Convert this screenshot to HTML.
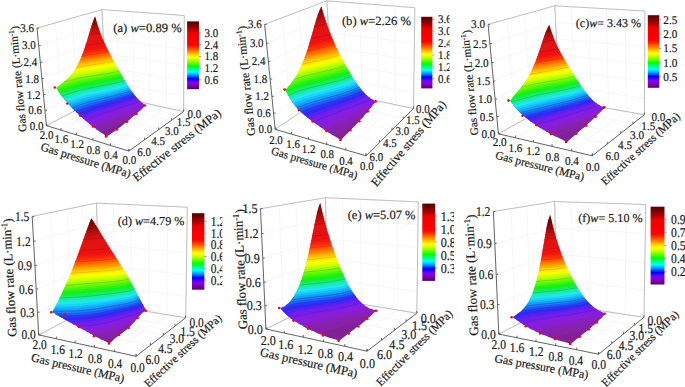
<!DOCTYPE html>
<html><head><meta charset="utf-8"><style>html,body{margin:0;padding:0;background:#fff;}svg{display:block}</style></head>
<body><svg xmlns="http://www.w3.org/2000/svg" width="685" height="387" viewBox="0 0 685 387" text-rendering="geometricPrecision">
<rect width="685" height="387" fill="#fff"/>
<path d="M46.4 125.6L106.2 94.5M106.2 94.5L183.6 111.6M45.0 110.3L105.5 81.1M105.5 81.1L183.7 96.5M43.5 94.7L104.8 67.3M104.8 67.3L183.9 81.1M41.9 78.6L104.1 53.3M104.1 53.3L184.0 65.3M40.3 62.2L103.4 39.1M103.4 39.1L184.1 49.1M38.7 45.4L102.7 24.5M102.7 24.5L184.2 32.5M37.0 28.1L101.9 9.6M101.9 9.6L184.3 15.5M106.2 94.5L101.9 9.6M106.2 94.5L183.6 111.6M92.9 101.4L87.6 13.7M92.9 101.4L171.7 120.3M78.6 108.9L72.1 18.1M78.6 108.9L158.7 129.7M63.1 116.9L55.3 22.9M63.1 116.9L144.5 139.9M46.4 125.6L37.0 28.1M46.4 125.6L128.9 151.1M183.6 111.6L184.3 15.5M128.9 151.1L183.6 111.6M166.5 107.8L166.0 14.2M110.3 145.4L166.5 107.8M150.2 104.3L148.6 13.0M92.9 140.0L150.2 104.3M134.8 100.8L132.2 11.8M76.5 134.9L134.8 100.8M120.1 97.6L116.7 10.7M61.0 130.2L120.1 97.6M106.2 94.5L101.9 9.6M46.4 125.6L106.2 94.5" stroke="#f0f0f0" stroke-width="0.6" fill="none"/>
<path d="M37.0 28.1L101.9 9.6M101.9 9.6L184.3 15.5M106.2 94.5L101.9 9.6M183.6 111.6L184.3 15.5M46.4 125.6L106.2 94.5M106.2 94.5L183.6 111.6" stroke="#a8a8a8" stroke-width="0.7" fill="none"/>
<path d="M131.4 118.0L124.1 120.3L112.8 124.5L105.0 128.1L99.3 131.3L106.9 136.5L117.5 129.2L131.4 118.0Z" fill="#822196"/>
<path d="M138.0 112.4L111.1 121.7L102.5 125.5L96.0 128.9L101.3 132.8L106.4 129.8L112.1 127.1L127.5 121.3L138.0 112.4Z" fill="#8622a3"/>
<path d="M142.9 108.0L134.4 110.5L111.1 118.6L101.0 122.7L93.0 126.6L97.9 130.4L104.4 126.8L112.2 123.4L134.4 115.5L142.9 108.0Z" fill="#8821b3"/>
<path d="M145.6 105.6L144.2 104.6L115.3 114.2L101.0 119.4L90.2 124.4L94.8 128.0L102.0 124.3L111.3 120.4L140.2 110.4L145.6 105.6Z" fill="#8920c6"/>
<path d="M145.6 105.6L141.8 102.7L103.4 115.5L95.2 118.7L87.5 122.2L91.9 125.7L99.2 122.1L108.6 118.2L145.1 106.0L145.6 105.6Z" fill="#8a1ed8"/>
<path d="M143.2 103.8L139.9 100.9L100.4 113.8L85.0 120.1L89.1 123.5L96.7 120.0L105.5 116.5L143.2 103.8Z" fill="#831ee2"/>
<path d="M141.0 102.0L138.2 99.2L98.3 111.8L82.6 118.0L86.5 121.4L102.5 114.7L141.0 102.0Z" fill="#7c1eeb"/>
<path d="M139.2 100.2L136.6 97.5L123.9 101.7L96.2 109.9L80.3 115.9L84.0 119.2L99.6 113.0L139.2 100.2Z" fill="#6b20f0"/>
<path d="M137.5 98.5L135.2 95.9L121.0 100.4L94.2 108.0L78.1 113.9L81.6 117.2L97.4 111.0L137.5 98.5Z" fill="#4f23f0"/>
<path d="M136.1 96.9L133.9 94.2L120.3 98.5L92.3 106.1L76.0 111.9L79.4 115.1L94.7 109.4L122.6 101.2L136.1 96.9Z" fill="#3427f0"/>
<path d="M134.7 95.2L132.7 92.6L118.9 96.8L90.4 104.2L74.0 110.0L77.2 113.1L93.4 107.2L120.4 99.7L134.7 95.2Z" fill="#243cf1"/>
<path d="M133.4 93.6L131.6 91.0L117.6 95.2L89.3 102.2L72.0 108.0L75.1 111.1L91.5 105.4L119.8 97.8L133.4 93.6Z" fill="#1d5ef4"/>
<path d="M132.2 92.0L130.5 89.5L116.3 93.5L87.5 100.4L70.2 106.2L73.2 109.2L89.6 103.5L118.4 96.2L132.2 92.0Z" fill="#1680f6"/>
<path d="M131.1 90.4L129.4 87.9L115.1 91.9L85.8 98.6L68.5 104.3L71.3 107.3L88.6 101.4L117.1 94.5L131.1 90.4Z" fill="#10a2f8"/>
<path d="M130.0 88.8L128.4 86.3L114.7 90.1L85.0 96.6L66.9 102.5L69.5 105.4L86.9 99.6L115.8 92.9L130.0 88.8Z" fill="#16baf8"/>
<path d="M129.0 87.3L127.4 84.8L114.3 88.3L84.2 94.6L75.8 97.0L65.3 100.7L67.8 103.6L85.9 97.6L114.6 91.2L129.0 87.3Z" fill="#1bd3f8"/>
<path d="M128.0 85.7L126.4 83.2L113.1 86.7L83.4 92.6L75.6 94.8L63.8 98.9L66.2 101.7L84.3 95.8L114.2 89.4L128.0 85.7Z" fill="#1fe8f0"/>
<path d="M127.0 84.2L125.4 81.7L112.8 84.9L81.9 90.9L74.3 93.1L62.4 97.1L64.7 99.9L75.4 96.2L83.5 93.9L113.0 87.8L127.0 84.2Z" fill="#1deac6"/>
<path d="M126.0 82.6L124.5 80.2L111.7 83.3L81.3 89.0L73.0 91.3L61.1 95.4L63.3 98.2L74.5 94.3L82.8 92.0L112.6 86.0L126.0 82.6Z" fill="#1aeb9b"/>
<path d="M125.1 81.1L123.6 78.7L110.6 81.7L80.8 87.2L72.4 89.4L59.9 93.7L61.9 96.4L73.8 92.4L82.2 90.0L111.6 84.4L125.1 81.1Z" fill="#17ed70"/>
<path d="M124.1 79.6L122.7 77.1L110.4 80.0L79.5 85.5L71.2 87.8L58.7 92.0L60.6 94.7L73.1 90.4L80.8 88.4L111.1 82.7L124.1 79.6Z" fill="#14ee46"/>
<path d="M123.2 78.0L121.8 75.6L109.4 78.4L86.0 82.2L72.9 85.2L57.5 90.3L59.4 93.0L71.9 88.8L80.3 86.5L110.2 81.1L123.2 78.0Z" fill="#11f01b"/>
<path d="M122.3 76.5L120.9 74.1L108.7 76.8L84.8 80.6L72.5 83.4L56.5 88.6L58.2 91.3L70.7 87.1L79.0 84.8L110.0 79.3L122.3 76.5Z" fill="#27f20e"/>
<path d="M121.5 75.0L120.1 72.6L108.2 75.1L81.9 79.3L71.5 81.8L59.1 85.8L56.2 88.1L57.1 89.6L70.3 85.2L79.2 82.9L109.8 77.6L121.5 75.0Z" fill="#45f50b"/>
<path d="M120.6 73.5L119.2 71.1L108.1 73.4L77.4 78.4L63.5 82.3L56.5 87.8L69.6 83.5L78.3 81.2L108.8 76.1L120.6 73.5Z" fill="#64f708"/>
<path d="M119.7 72.0L118.4 69.6L107.1 71.9L78.9 76.3L67.0 79.3L60.9 84.4L70.3 81.4L79.5 79.1L108.7 74.3L119.7 72.0Z" fill="#82fa06"/>
<path d="M118.9 70.5L117.5 68.1L107.1 70.2L78.8 74.6L69.6 76.8L65.1 81.1L79.5 77.3L107.7 72.8L118.9 70.5Z" fill="#a1fc03"/>
<path d="M118.0 69.0L116.7 66.5L107.0 68.5L81.4 72.3L71.6 74.4L68.1 78.3L81.1 75.2L106.7 71.2L118.0 69.0Z" fill="#bfff00"/>
<path d="M117.2 67.4L115.9 65.0L106.1 66.9L81.1 70.7L73.2 72.3L70.4 75.8L82.1 73.2L106.7 69.5L117.2 67.4Z" fill="#d8ff00"/>
<path d="M116.4 65.9L115.1 63.5L105.2 65.4L82.2 68.8L74.6 70.3L72.3 73.6L81.9 71.6L105.7 68.0L116.4 65.9Z" fill="#f1ff00"/>
<path d="M115.5 64.4L114.2 62.0L104.3 63.9L83.1 67.0L75.8 68.3L73.8 71.5L82.9 69.7L105.7 66.3L115.5 64.4Z" fill="#fff800"/>
<path d="M114.7 62.9L113.4 60.5L82.7 65.4L76.9 66.4L75.1 69.5L114.7 62.9Z" fill="#ffe800"/>
<path d="M113.9 61.4L112.6 59.1L83.5 63.6L77.9 64.6L76.3 67.5L113.9 61.4Z" fill="#ffd400"/>
<path d="M113.1 59.9L111.8 57.6L84.3 61.8L78.8 62.8L77.3 65.7L113.1 59.9Z" fill="#ffbb00"/>
<path d="M112.3 58.5L111.0 56.1L83.8 60.3L79.6 61.0L78.3 63.8L112.3 58.5Z" fill="#ffa200"/>
<path d="M111.5 57.0L110.2 54.6L83.2 58.8L80.4 59.2L79.1 62.0L111.5 57.0Z" fill="#ff8900"/>
<path d="M110.7 55.5L109.5 53.1L85.2 56.8L81.2 57.5L80.0 60.3L110.7 55.5Z" fill="#ff7101"/>
<path d="M109.9 54.0L108.7 51.6L84.5 55.3L81.8 55.8L80.7 58.5L109.9 54.0Z" fill="#ff5a04"/>
<path d="M109.2 52.5L108.0 50.1L83.8 53.9L82.5 54.1L81.4 56.8L109.2 52.5Z" fill="#ff4406"/>
<path d="M108.4 51.0L107.2 48.6L83.1 52.4L82.1 55.1L108.4 51.0Z" fill="#fe2e09"/>
<path d="M107.7 49.5L106.5 47.2L83.7 50.7L82.8 53.4L107.7 49.5Z" fill="#f8230c"/>
<path d="M106.9 48.0L105.8 45.7L84.3 49.1L83.4 51.7L106.9 48.0Z" fill="#f21710"/>
<path d="M106.2 46.6L105.1 44.2L84.9 47.4L84.0 50.1L106.2 46.6Z" fill="#ef1212"/>
<path d="M105.5 45.1L104.4 42.7L85.4 45.8L84.5 48.4L105.5 45.1Z" fill="#ed1212"/>
<path d="M104.8 43.6L103.8 41.3L85.9 44.1L85.1 46.8L104.8 43.6Z" fill="#eb1313"/>
<path d="M104.2 42.2L103.1 39.8L86.5 42.5L85.6 45.1L104.2 42.2Z" fill="#e91313"/>
<path d="M103.5 40.7L102.4 38.4L87.0 40.9L86.2 43.5L103.5 40.7Z" fill="#e71313"/>
<path d="M102.9 39.2L101.7 36.9L87.5 39.3L86.7 41.9L102.9 39.2Z" fill="#e51313"/>
<path d="M102.3 37.8L101.3 35.4L88.0 37.6L87.2 40.2L102.3 37.8Z" fill="#e31414"/>
<path d="M101.7 36.3L100.8 34.0L88.4 36.0L87.7 38.6L101.7 36.3Z" fill="#e11414"/>
<path d="M101.1 34.8L100.2 32.5L88.9 34.4L88.2 37.0L101.1 34.8Z" fill="#dc1313"/>
<path d="M100.5 33.4L99.7 31.1L89.4 32.8L88.6 35.4L100.5 33.4Z" fill="#d51111"/>
<path d="M100.0 31.9L99.2 29.6L89.9 31.2L89.1 33.8L100.0 31.9Z" fill="#ce0f0f"/>
<path d="M99.5 30.5L98.7 28.2L98.3 28.2L90.4 29.6L89.6 32.2L99.5 30.5Z" fill="#c60e0e"/>
<path d="M99.0 29.0L98.2 26.7L90.9 28.0L90.1 30.6L99.0 29.0Z" fill="#bf0c0c"/>
<path d="M98.5 27.6L97.7 25.3L91.4 26.4L90.6 29.0L98.5 27.6Z" fill="#b40b0b"/>
<path d="M98.0 26.1L97.0 23.8L91.9 24.8L91.1 27.4L98.0 26.1Z" fill="#aa0a0a"/>
<path d="M97.5 24.7L96.8 22.4L95.9 22.5L92.4 23.2L91.6 25.7L97.5 24.7Z" fill="#9f0909"/>
<path d="M97.1 23.2L96.4 20.9L93.0 21.5L92.1 24.1L97.1 23.2Z" fill="#940808"/>
<path d="M96.6 21.8L96.0 19.5L95.5 19.6L93.6 19.9L92.6 22.5L96.6 21.8Z" fill="#8a0707"/>
<path d="M96.2 20.3L95.6 18.0L94.2 18.3L93.2 20.9L96.2 20.3Z" fill="#810505"/>
<path d="M95.8 18.9L94.9 16.6L93.8 19.3L95.8 18.9Z" fill="#770404"/>
<path d="M95.4 17.5L95.1 16.3L94.5 17.6L95.4 17.5Z" fill="#6e0202"/>
<path d="M85.5 120.5L100.9 114.2L140.2 101.3M71.7 107.7L88.2 102.0L118.1 94.6L131.3 90.7M61.6 96.1L81.1 89.9L112.2 83.9L124.9 80.8M63.5 82.3L80.5 77.8L108.1 73.4L119.2 71.1M76.3 67.5L113.9 61.4M81.7 56.1L108.9 51.9M85.5 45.4L104.3 42.5M88.7 35.1L100.4 33.1M91.9 24.8L97.3 23.8" stroke="#000" stroke-opacity="0.25" stroke-width="0.5" fill="none"/>
<circle cx="54.8" cy="87.5" r="1.3" fill="#f00"/><circle cx="67.3" cy="103.5" r="1.3" fill="#f00"/><circle cx="80.1" cy="115.6" r="1.3" fill="#f00"/><circle cx="92.9" cy="126.5" r="1.3" fill="#f00"/><circle cx="106.0" cy="136.4" r="1.3" fill="#f00"/><circle cx="117.0" cy="129.4" r="1.3" fill="#f00"/><circle cx="127.0" cy="121.7" r="1.3" fill="#f00"/><circle cx="136.3" cy="114.0" r="1.3" fill="#f00"/><circle cx="144.8" cy="105.5" r="1.3" fill="#f00"/>
<path d="M46.4 125.6L37.0 28.1M46.4 125.6L128.9 151.1M128.9 151.1L183.6 111.6M46.4 125.6h2M45.0 110.3h2M43.5 94.7h2M41.9 78.6h2M40.3 62.2h2M38.7 45.4h2M37.0 28.1h2M46.4 125.6v-2.2M61.0 130.2v-2.2M76.5 134.9v-2.2M92.9 140.0v-2.2M110.3 145.4v-2.2M128.9 151.1v-2.2M128.9 151.1v-2.2M144.5 139.9v-2.2M158.7 129.7v-2.2M171.7 120.3v-2.2M183.6 111.6v-2.2" stroke="#555" stroke-width="0.9" fill="none"/>
<g font-family="Liberation Serif, serif" font-size="11.00" fill="#1a1a1a" stroke="#1a1a1a" stroke-width="0.18"><text transform="translate(43.4 129.7) scale(1 1.080)" text-anchor="end">0.0</text><text transform="translate(42.0 114.4) scale(1 1.080)" text-anchor="end">0.6</text><text transform="translate(40.5 98.7) scale(1 1.080)" text-anchor="end">1.2</text><text transform="translate(38.9 82.6) scale(1 1.080)" text-anchor="end">1.8</text><text transform="translate(37.3 66.2) scale(1 1.080)" text-anchor="end">2.4</text><text transform="translate(35.7 49.4) scale(1 1.080)" text-anchor="end">3.0</text><text transform="translate(34.0 32.1) scale(1 1.080)" text-anchor="end">3.6</text><text transform="translate(46.5 138.6) scale(1 1.080)" text-anchor="middle">2.0</text><text transform="translate(61.4 143.2) scale(1 1.080)" text-anchor="middle">1.6</text><text transform="translate(77.2 147.8) scale(1 1.080)" text-anchor="middle">1.2</text><text transform="translate(93.3 153.5) scale(1 1.080)" text-anchor="middle">0.8</text><text transform="translate(110.9 159.3) scale(1 1.080)" text-anchor="middle">0.4</text><text transform="translate(129.3 164.3) scale(1 1.080)" text-anchor="middle">0.0</text><text transform="translate(144.2 155.5) scale(1 1.080)" text-anchor="middle">6.0</text><text transform="translate(158.1 144.5) scale(1 1.080)" text-anchor="middle">4.5</text><text transform="translate(171.9 135.3) scale(1 1.080)" text-anchor="middle">3.0</text><text transform="translate(183.7 126.0) scale(1 1.080)" text-anchor="middle">1.5</text><text transform="translate(194.3 117.9) scale(1 1.080)" text-anchor="middle">0.0</text></g>
<g font-family="Liberation Serif, serif" fill="#1a1a1a" stroke="#1a1a1a" stroke-width="0.18"><text transform="translate(18.1 78.9) rotate(-95.5)" text-anchor="middle" dy="0.3em" font-size="11.33">Gas flow rate (L·min<tspan font-size="0.68em" dy="-0.4em">-1</tspan><tspan dy="0.4em">)</tspan></text><text transform="translate(85.8 160.5) rotate(17.2)" text-anchor="middle" dy="0.3em" font-size="11.82">Gas pressure (MPa)</text><text transform="translate(177.1 145.3) rotate(-38.4)" text-anchor="middle" dy="0.3em" font-size="12.18">Effective stress (MPa)</text></g>
<text font-family="Liberation Serif, serif" font-size="12.6" fill="#1a1a1a" stroke="#1a1a1a" stroke-width="0.18" x="113.3" y="31.5">(a) <tspan font-style="italic">w</tspan>=0.89 %</text>
<linearGradient id="ga" x1="0" y1="1" x2="0" y2="0"><stop offset="0.000" stop-color="#5a0070"/><stop offset="0.060" stop-color="#8000c0"/><stop offset="0.100" stop-color="#8000ff"/><stop offset="0.155" stop-color="#0000ff"/><stop offset="0.210" stop-color="#00a0ff"/><stop offset="0.255" stop-color="#00ffff"/><stop offset="0.340" stop-color="#00ff00"/><stop offset="0.430" stop-color="#c0ff00"/><stop offset="0.470" stop-color="#ffff00"/><stop offset="0.500" stop-color="#ffe000"/><stop offset="0.560" stop-color="#ff8000"/><stop offset="0.615" stop-color="#ff3000"/><stop offset="0.655" stop-color="#ff0000"/><stop offset="0.830" stop-color="#f00000"/><stop offset="0.885" stop-color="#b00000"/><stop offset="0.956" stop-color="#700000"/><stop offset="1.000" stop-color="#500000"/></linearGradient>
<rect x="187.1" y="21.4" width="11.9" height="67.8" fill="url(#ga)"/>
<path d="M199.0 32.9h2M199.0 44.6h2M199.0 56.4h2M199.0 68.1h2M199.0 79.8h2" stroke="#777" stroke-width="0.8"/>
<g font-family="Liberation Serif, serif" font-size="11.00" fill="#1a1a1a" stroke="#1a1a1a" stroke-width="0.18"><text transform="translate(204.6 36.9) scale(1 1.080)" text-anchor="start">3.0</text><text transform="translate(204.6 48.7) scale(1 1.080)" text-anchor="start">2.4</text><text transform="translate(204.6 60.4) scale(1 1.080)" text-anchor="start">1.8</text><text transform="translate(204.6 72.1) scale(1 1.080)" text-anchor="start">1.2</text><text transform="translate(204.6 83.8) scale(1 1.080)" text-anchor="start">0.6</text></g>
<path d="M275.2 129.4L331.7 91.3M331.7 91.3L413.5 108.5M273.6 113.1L330.9 77.0M330.9 77.0L413.8 92.8M271.9 96.3L330.2 62.5M330.2 62.5L414.0 76.7M270.2 79.1L329.4 47.6M329.4 47.6L414.2 60.1M268.4 61.4L328.6 32.4M328.6 32.4L414.4 43.1M266.5 43.2L327.8 16.8M327.8 16.8L414.7 25.7M264.6 24.4L326.9 0.8M326.9 0.8L414.9 7.7M331.7 91.3L326.9 0.8M331.7 91.3L413.5 108.5M319.2 99.7L313.4 5.9M319.2 99.7L403.2 118.7M305.8 108.8L298.6 11.5M305.8 108.8L392.0 129.9M291.2 118.6L282.4 17.7M291.2 118.6L379.6 142.2M275.2 129.4L264.6 24.4M275.2 129.4L366.0 155.8M413.5 108.5L414.9 7.7M366.0 155.8L413.5 108.5M395.6 104.7L395.6 6.2M345.8 149.9L395.6 104.7M378.5 101.1L377.1 4.7M326.7 144.4L378.5 101.1M362.2 97.7L359.6 3.3M308.6 139.1L362.2 97.7M346.6 94.4L342.9 2.0M291.5 134.1L346.6 94.4M331.7 91.3L326.9 0.8M275.2 129.4L331.7 91.3" stroke="#f0f0f0" stroke-width="0.6" fill="none"/>
<path d="M264.6 24.4L326.9 0.8M326.9 0.8L414.9 7.7M331.7 91.3L326.9 0.8M413.5 108.5L414.9 7.7M275.2 129.4L331.7 91.3M331.7 91.3L413.5 108.5" stroke="#a8a8a8" stroke-width="0.7" fill="none"/>
<path d="M358.7 121.7L350.0 125.2L331.4 134.3L341.0 140.0L358.7 121.7Z" fill="#822196"/>
<path d="M364.4 115.4L360.5 116.4L352.0 119.7L327.1 131.5L334.1 136.0L354.2 126.5L364.4 115.4Z" fill="#8622a3"/>
<path d="M368.9 110.0L362.4 111.8L352.6 115.5L323.1 128.9L329.7 133.2L351.4 122.6L361.4 118.7L368.9 110.0Z" fill="#8821b3"/>
<path d="M372.6 105.5L366.5 106.9L355.6 110.8L319.3 126.2L325.5 130.4L352.3 117.9L359.5 115.1L366.5 112.9L372.6 105.5Z" fill="#8920c6"/>
<path d="M375.7 101.6L374.3 101.0L362.7 104.9L315.7 123.7L321.6 127.8L352.8 113.9L362.6 110.2L370.5 108.0L375.7 101.6Z" fill="#8a1ed8"/>
<path d="M375.7 101.6L370.9 98.7L312.2 121.2L317.8 125.2L355.5 109.5L366.6 105.5L374.3 103.3L375.7 101.6Z" fill="#831ee2"/>
<path d="M372.8 100.0L368.3 96.7L349.9 104.0L309.0 118.8L314.2 122.7L350.8 108.2L372.8 100.0Z" fill="#7c1eeb"/>
<path d="M369.8 97.9L366.2 94.8L347.9 102.0L306.0 116.5L310.9 120.3L369.8 97.9Z" fill="#6b20f0"/>
<path d="M367.4 95.9L364.3 92.9L346.0 100.1L303.4 114.3L307.8 117.9L349.8 102.9L367.4 95.9Z" fill="#4f23f0"/>
<path d="M365.4 94.0L362.7 91.1L355.1 94.3L345.0 98.0L313.3 107.8L301.0 112.1L304.9 115.6L347.1 101.3L365.4 94.0Z" fill="#3427f0"/>
<path d="M363.7 92.2L361.2 89.3L353.6 92.5L344.1 95.8L311.9 105.4L298.8 110.0L302.4 113.4L346.8 98.8L363.7 92.2Z" fill="#243cf1"/>
<path d="M362.1 90.4L359.7 87.6L352.8 90.5L344.1 93.5L311.4 102.9L296.9 108.0L300.1 111.2L311.5 107.2L345.9 96.7L362.1 90.4Z" fill="#1d5ef4"/>
<path d="M360.6 88.6L358.4 85.8L343.4 91.4L309.5 100.8L295.2 106.0L298.1 109.2L311.3 104.5L345.0 94.6L360.6 88.6Z" fill="#1680f6"/>
<path d="M359.2 86.9L357.1 84.1L343.5 89.1L308.6 98.6L293.7 104.0L296.2 107.2L310.7 102.0L344.3 92.5L359.2 86.9Z" fill="#10a2f8"/>
<path d="M357.9 85.1L355.9 82.4L348.8 85.2L340.6 87.8L306.1 97.0L292.3 102.1L294.6 105.2L308.8 100.1L343.6 90.5L357.9 85.1Z" fill="#16baf8"/>
<path d="M356.6 83.4L354.8 80.7L348.3 83.2L339.2 86.0L306.5 94.5L299.1 96.9L291.0 100.3L293.1 103.3L306.2 98.4L340.6 89.1L349.6 86.2L356.6 83.4Z" fill="#1bd4f8"/>
<path d="M355.5 81.7L353.6 79.0L339.5 83.8L305.2 92.6L297.5 95.2L289.8 98.4L291.8 101.4L299.5 98.2L306.8 95.8L340.0 87.1L349.1 84.2L355.5 81.7Z" fill="#1fe8f0"/>
<path d="M354.3 80.0L352.6 77.3L346.7 79.5L338.3 82.1L305.4 90.3L297.9 92.8L288.7 96.6L290.5 99.5L298.1 96.4L305.6 93.8L339.5 85.1L347.9 82.5L354.3 80.0Z" fill="#1deac6"/>
<path d="M353.2 78.3L351.5 75.6L337.9 80.1L305.5 88.1L295.8 91.3L287.7 94.8L289.4 97.7L298.5 93.9L305.9 91.4L338.2 83.3L346.0 81.0L353.2 78.3Z" fill="#1aeb9b"/>
<path d="M352.1 76.6L350.5 73.9L337.6 78.1L303.7 86.4L295.8 89.1L286.8 93.0L288.3 95.9L296.6 92.3L304.4 89.7L338.6 81.1L352.1 76.6Z" fill="#17ed70"/>
<path d="M351.1 74.9L349.5 72.2L337.3 76.2L303.6 84.4L295.5 87.1L285.9 91.2L287.4 94.1L296.8 90.1L304.5 87.5L338.3 79.2L351.1 74.9Z" fill="#14ee46"/>
<path d="M350.1 73.2L348.5 70.6L337.0 74.3L312.5 79.9L303.4 82.3L292.9 86.0L286.2 89.0L285.3 89.9L286.4 92.3L294.3 88.9L304.4 85.4L337.1 77.4L350.1 73.2Z" fill="#11f01b"/>
<path d="M349.1 71.6L347.5 68.9L335.9 72.5L304.8 79.9L297.3 82.3L289.4 85.4L285.3 89.9L285.6 90.5L296.6 85.9L305.9 82.9L336.8 75.5L349.1 71.6Z" fill="#27f20e"/>
<path d="M348.1 69.9L346.6 67.3L334.9 70.8L304.4 78.0L291.9 82.3L287.6 87.4L296.2 83.9L303.9 81.4L335.7 73.8L348.1 69.9Z" fill="#45f50b"/>
<path d="M347.2 68.2L345.7 65.6L334.7 68.9L305.5 75.7L293.9 79.5L290.5 84.1L305.3 79.0L335.5 71.9L347.2 68.2Z" fill="#64f708"/>
<path d="M346.2 66.6L344.8 63.9L334.5 67.0L306.6 73.4L295.6 76.8L292.8 81.1L306.4 76.6L335.3 69.9L346.2 66.6Z" fill="#82fa06"/>
<path d="M345.3 64.9L343.9 62.3L333.6 65.3L306.1 71.6L297.0 74.4L294.6 78.4L307.5 74.4L334.3 68.2L345.3 64.9Z" fill="#a1fc03"/>
<path d="M344.4 63.3L343.0 60.6L333.5 63.5L307.0 69.5L298.3 72.0L296.2 75.8L307.0 72.5L333.3 66.6L344.4 63.3Z" fill="#bfff00"/>
<path d="M343.5 61.6L342.1 59.0L331.7 62.0L308.0 67.3L299.5 69.7L297.6 73.4L309.5 70.0L334.8 64.2L343.5 61.6Z" fill="#d8ff00"/>
<path d="M342.7 60.0L341.3 57.3L332.5 59.9L307.3 65.6L300.6 67.5L298.8 71.1L310.4 67.9L333.9 62.6L342.7 60.0Z" fill="#f1ff00"/>
<path d="M341.8 58.3L340.4 55.7L330.8 58.4L308.1 63.5L301.5 65.3L299.9 68.8L311.2 65.8L333.0 60.9L341.8 58.3Z" fill="#fff800"/>
<path d="M340.9 56.7L339.6 54.1L331.6 56.4L308.9 61.5L302.5 63.2L301.0 66.6L310.6 64.0L332.9 59.0L340.9 56.7Z" fill="#ffe800"/>
<path d="M340.1 55.0L338.8 52.4L329.9 54.9L308.2 59.8L303.3 61.1L301.9 64.4L331.3 57.6L340.1 55.0Z" fill="#ffd400"/>
<path d="M339.3 53.4L338.0 50.8L329.1 53.2L308.9 57.8L304.1 59.0L302.8 62.3L330.4 55.9L339.3 53.4Z" fill="#ffba00"/>
<path d="M338.5 51.8L337.2 49.1L328.3 51.6L309.6 55.8L304.9 57.0L303.6 60.2L330.4 54.0L338.5 51.8Z" fill="#ffa200"/>
<path d="M337.7 50.1L336.4 47.5L329.1 49.5L308.8 54.1L305.6 54.9L304.4 58.2L329.6 52.4L337.7 50.1Z" fill="#ff8900"/>
<path d="M336.9 48.5L335.7 45.9L328.4 47.9L309.4 52.2L306.3 52.9L305.2 56.2L328.8 50.7L336.9 48.5Z" fill="#ff7101"/>
<path d="M336.1 46.8L334.9 44.2L308.5 50.6L307.0 51.0L305.9 54.1L328.0 49.1L336.1 46.8Z" fill="#ff5a04"/>
<path d="M335.4 45.2L334.2 42.6L309.2 48.6L307.6 49.0L306.6 52.2L335.4 45.2Z" fill="#ff4406"/>
<path d="M334.6 43.6L333.5 41.0L308.2 47.1L307.2 50.2L334.6 43.6Z" fill="#fe2e09"/>
<path d="M333.9 41.9L332.8 39.3L308.8 45.1L307.8 48.2L333.9 41.9Z" fill="#f8230c"/>
<path d="M333.2 40.3L332.1 37.7L309.4 43.2L308.5 46.3L333.2 40.3Z" fill="#f21710"/>
<path d="M332.5 38.7L331.4 36.1L310.0 41.3L309.0 44.4L332.5 38.7Z" fill="#ef1212"/>
<path d="M331.8 37.1L330.7 34.5L310.5 39.4L309.6 42.4L331.8 37.1Z" fill="#ed1212"/>
<path d="M331.1 35.4L330.1 32.8L311.1 37.5L310.2 40.5L331.1 35.4Z" fill="#eb1313"/>
<path d="M330.5 33.8L329.4 31.2L311.6 35.6L310.8 38.6L330.5 33.8Z" fill="#e91313"/>
<path d="M329.8 32.2L328.8 29.6L312.2 33.7L311.3 36.7L329.8 32.2Z" fill="#e71313"/>
<path d="M329.2 30.6L328.2 27.9L312.7 31.8L311.8 34.8L329.2 30.6Z" fill="#e51313"/>
<path d="M328.6 28.9L327.6 26.3L313.2 29.9L312.4 32.9L328.6 28.9Z" fill="#e31414"/>
<path d="M328.0 27.3L327.0 24.7L313.8 28.0L312.9 31.0L328.0 27.3Z" fill="#e11414"/>
<path d="M327.4 25.7L326.5 23.1L314.3 26.2L313.4 29.2L327.4 25.7Z" fill="#dc1313"/>
<path d="M326.8 24.0L325.9 21.4L314.8 24.3L314.0 27.3L326.8 24.0Z" fill="#d51111"/>
<path d="M326.3 22.4L325.4 19.8L315.4 22.4L314.5 25.4L326.3 22.4Z" fill="#ce0f0f"/>
<path d="M325.7 20.8L324.9 18.2L316.0 20.5L315.1 23.5L325.7 20.8Z" fill="#c60e0e"/>
<path d="M325.2 19.2L324.3 16.6L316.5 18.6L315.6 21.6L325.2 19.2Z" fill="#bf0c0c"/>
<path d="M324.6 17.6L323.8 14.9L317.1 16.7L316.2 19.7L324.6 17.6Z" fill="#b40b0b"/>
<path d="M324.1 15.9L323.3 13.3L317.8 14.8L316.8 17.9L324.1 15.9Z" fill="#a90a0a"/>
<path d="M323.6 14.3L322.9 11.7L318.5 12.9L317.4 16.0L323.6 14.3Z" fill="#9f0909"/>
<path d="M323.1 12.7L322.4 10.1L319.2 10.9L318.1 14.0L323.1 12.7Z" fill="#940808"/>
<path d="M322.7 11.0L321.9 8.4L320.1 8.9L318.8 12.1L322.7 11.0Z" fill="#8a0707"/>
<path d="M322.2 9.4L321.5 6.8L321.2 6.9L319.6 10.1L322.2 9.4Z" fill="#810505"/>
<path d="M321.7 7.8L321.4 6.6L320.5 8.1L321.7 7.8Z" fill="#770404"/>
<path d="M312.9 121.7L371.5 99.1M296.6 107.6L310.4 102.7L344.6 92.9L359.5 87.2M288.1 95.5L297.1 91.7L304.8 89.1L338.4 80.8L351.9 76.3M293.9 79.5L307.1 75.3L334.7 68.9L345.7 65.6M301.9 64.4L331.3 57.6L340.1 55.0M306.8 51.4L335.1 44.6M310.6 39.0L330.6 34.1M314.1 26.9L326.7 23.7M317.8 14.8L323.3 13.3" stroke="#000" stroke-opacity="0.25" stroke-width="0.5" fill="none"/>
<circle cx="284.6" cy="89.6" r="1.3" fill="#f00"/><circle cx="298.8" cy="110.1" r="1.3" fill="#f00"/><circle cx="312.5" cy="121.4" r="1.3" fill="#f00"/><circle cx="326.4" cy="131.0" r="1.3" fill="#f00"/><circle cx="340.4" cy="140.0" r="1.3" fill="#f00"/><circle cx="350.3" cy="130.3" r="1.3" fill="#f00"/><circle cx="359.3" cy="121.2" r="1.3" fill="#f00"/><circle cx="367.7" cy="111.4" r="1.3" fill="#f00"/><circle cx="375.6" cy="101.4" r="1.3" fill="#f00"/>
<path d="M275.2 129.4L264.6 24.4M275.2 129.4L366.0 155.8M366.0 155.8L413.5 108.5M275.2 129.4h2M273.6 113.1h2M271.9 96.3h2M270.2 79.1h2M268.4 61.4h2M266.5 43.2h2M264.6 24.4h2M275.2 129.4v-2.2M291.5 134.1v-2.2M308.6 139.1v-2.2M326.7 144.4v-2.2M345.8 149.9v-2.2M366.0 155.8v-2.2M366.0 155.8v-2.2M379.6 142.2v-2.2M392.0 129.9v-2.2M403.2 118.7v-2.2M413.5 108.5v-2.2" stroke="#555" stroke-width="0.9" fill="none"/>
<g font-family="Liberation Serif, serif" font-size="10.90" fill="#1a1a1a" stroke="#1a1a1a" stroke-width="0.18"><text transform="translate(272.2 133.4) scale(1 1.090)" text-anchor="end">0.0</text><text transform="translate(270.6 117.1) scale(1 1.090)" text-anchor="end">0.6</text><text transform="translate(268.9 100.4) scale(1 1.090)" text-anchor="end">1.2</text><text transform="translate(267.2 83.1) scale(1 1.090)" text-anchor="end">1.8</text><text transform="translate(265.4 65.4) scale(1 1.090)" text-anchor="end">2.4</text><text transform="translate(263.5 47.2) scale(1 1.090)" text-anchor="end">3.0</text><text transform="translate(261.6 28.4) scale(1 1.090)" text-anchor="end">3.6</text><text transform="translate(276.0 143.5) scale(1 1.090)" text-anchor="middle">2.0</text><text transform="translate(293.1 148.2) scale(1 1.090)" text-anchor="middle">1.6</text><text transform="translate(308.6 152.8) scale(1 1.090)" text-anchor="middle">1.2</text><text transform="translate(327.2 158.3) scale(1 1.090)" text-anchor="middle">0.8</text><text transform="translate(346.0 164.5) scale(1 1.090)" text-anchor="middle">0.4</text><text transform="translate(366.8 170.2) scale(1 1.090)" text-anchor="middle">0.0</text><text transform="translate(376.3 160.7) scale(1 1.090)" text-anchor="middle">6.0</text><text transform="translate(389.8 147.2) scale(1 1.090)" text-anchor="middle">4.5</text><text transform="translate(402.3 134.7) scale(1 1.090)" text-anchor="middle">3.0</text><text transform="translate(412.9 123.7) scale(1 1.090)" text-anchor="middle">1.5</text><text transform="translate(422.9 113.2) scale(1 1.090)" text-anchor="middle">0.0</text></g>
<g font-family="Liberation Serif, serif" fill="#1a1a1a" stroke="#1a1a1a" stroke-width="0.18"><text transform="translate(246.1 81.0) rotate(-95.8)" text-anchor="middle" dy="0.3em" font-size="11.77">Gas flow rate (L·min<tspan font-size="0.68em" dy="-0.4em">-1</tspan><tspan dy="0.4em">)</tspan></text><text transform="translate(314.4 163.3) rotate(16.2)" text-anchor="middle" dy="0.3em" font-size="11.27">Gas pressure (MPa)</text><text transform="translate(408.8 143.7) rotate(-49.6)" text-anchor="middle" dy="0.3em" font-size="12.17">Effective stress (MPa)</text></g>
<text font-family="Liberation Serif, serif" font-size="12.6" fill="#1a1a1a" stroke="#1a1a1a" stroke-width="0.18" x="341.9" y="24.5">(b) <tspan font-style="italic">w</tspan>=2.26 %</text>
<linearGradient id="gb" x1="0" y1="1" x2="0" y2="0"><stop offset="0.000" stop-color="#5a0070"/><stop offset="0.060" stop-color="#8000c0"/><stop offset="0.100" stop-color="#8000ff"/><stop offset="0.155" stop-color="#0000ff"/><stop offset="0.210" stop-color="#00a0ff"/><stop offset="0.255" stop-color="#00ffff"/><stop offset="0.340" stop-color="#00ff00"/><stop offset="0.430" stop-color="#c0ff00"/><stop offset="0.470" stop-color="#ffff00"/><stop offset="0.500" stop-color="#ffe000"/><stop offset="0.560" stop-color="#ff8000"/><stop offset="0.615" stop-color="#ff3000"/><stop offset="0.655" stop-color="#ff0000"/><stop offset="0.830" stop-color="#f00000"/><stop offset="0.885" stop-color="#b00000"/><stop offset="0.956" stop-color="#700000"/><stop offset="1.000" stop-color="#500000"/></linearGradient>
<rect x="421.2" y="16.8" width="11.2" height="71.6" fill="url(#gb)"/>
<path d="M432.4 19.4h2M432.4 31.3h2M432.4 43.1h2M432.4 55.0h2M432.4 66.9h2M432.4 78.8h2" stroke="#777" stroke-width="0.8"/>
<clipPath id="clb"><rect x="0" y="0" width="449.5" height="400"/></clipPath>
<g font-family="Liberation Serif, serif" font-size="10.90" fill="#1a1a1a" stroke="#1a1a1a" stroke-width="0.18" clip-path="url(#clb)"><text transform="translate(438.0 23.4) scale(1 1.090)" text-anchor="start">3.6</text><text transform="translate(438.0 35.3) scale(1 1.090)" text-anchor="start">3.0</text><text transform="translate(438.0 47.2) scale(1 1.090)" text-anchor="start">2.4</text><text transform="translate(438.0 59.0) scale(1 1.090)" text-anchor="start">1.8</text><text transform="translate(438.0 70.9) scale(1 1.090)" text-anchor="start">1.2</text><text transform="translate(438.0 82.8) scale(1 1.090)" text-anchor="start">0.6</text></g>
<path d="M498.4 133.8L559.6 100.0M559.6 100.0L644.4 114.7M496.8 116.6L558.8 85.0M558.8 85.0L644.4 98.4M495.1 99.0L558.0 69.8M558.0 69.8L644.5 81.7M493.4 81.0L557.2 54.3M557.2 54.3L644.6 64.6M491.7 62.6L556.4 38.5M556.4 38.5L644.7 47.1M490.0 43.7L555.6 22.3M555.6 22.3L644.8 29.3M488.1 24.4L554.8 5.8M554.8 5.8L644.9 11.0M559.6 100.0L554.8 5.8M559.6 100.0L644.4 114.7M546.0 107.4L540.2 9.9M546.0 107.4L633.0 123.7M531.4 115.5L524.3 14.3M531.4 115.5L620.7 133.4M515.6 124.3L507.1 19.1M515.6 124.3L607.2 144.1M498.4 133.8L488.1 24.4M498.4 133.8L592.3 155.8M644.4 114.7L644.9 11.0M592.3 155.8L644.4 114.7M626.0 111.5L625.3 9.9M571.7 151.0L626.0 111.5M608.4 108.5L606.5 8.8M552.0 146.4L608.4 108.5M591.5 105.5L588.5 7.8M533.3 142.0L591.5 105.5M575.2 102.7L571.3 6.8M515.4 137.8L575.2 102.7M559.6 100.0L554.8 5.8M498.4 133.8L559.6 100.0" stroke="#f0f0f0" stroke-width="0.6" fill="none"/>
<path d="M488.1 24.4L554.8 5.8M554.8 5.8L644.9 11.0M559.6 100.0L554.8 5.8M644.4 114.7L644.9 11.0M498.4 133.8L559.6 100.0M559.6 100.0L644.4 114.7" stroke="#a8a8a8" stroke-width="0.7" fill="none"/>
<path d="M587.2 124.6L587.7 124.2L585.3 124.5L578.9 126.2L553.2 135.3L567.0 141.9L587.2 124.6Z" fill="#822196"/>
<path d="M592.8 119.3L588.4 119.8L580.8 121.8L548.9 133.0L556.1 136.8L557.0 136.5L576.0 129.7L583.7 127.7L592.8 119.3Z" fill="#8622a3"/>
<path d="M596.9 115.3L597.3 114.9L593.1 115.3L584.4 117.5L573.6 120.9L553.0 128.3L544.9 130.7L551.4 134.4L552.4 134.1L578.7 124.7L585.1 122.9L589.9 122.1L596.9 115.3Z" fill="#8821b3"/>
<path d="M600.9 111.3L601.3 110.9L600.4 110.9L597.2 111.3L587.1 113.8L550.5 125.9L541.3 128.5L547.3 132.0L549.2 131.5L581.4 120.3L589.1 118.2L594.8 117.4L600.9 111.3Z" fill="#8920c6"/>
<path d="M604.8 107.4L602.7 106.9L595.7 108.6L548.2 123.6L537.9 126.4L543.4 129.8L546.3 129.0L582.9 116.7L593.5 113.9L598.9 113.3L604.8 107.4Z" fill="#8a1ed8"/>
<path d="M604.8 107.4L602.0 106.6L598.6 104.9L547.9 120.8L534.8 124.3L539.9 127.7L540.9 127.4L550.1 124.8L588.6 112.3L597.6 109.9L602.9 109.3L604.8 107.4Z" fill="#831ee2"/>
<path d="M600.6 106.0L596.2 103.2L575.8 109.8L543.4 119.4L531.9 122.3L536.6 125.6L538.7 125.1L548.7 122.3L600.6 106.0Z" fill="#7c1eeb"/>
<path d="M597.6 104.2L594.2 101.5L574.7 107.9L541.7 117.3L529.2 120.4L533.6 123.5L535.7 123.1L550.2 119.0L584.8 108.4L597.6 104.2Z" fill="#6b20f0"/>
<path d="M595.3 102.5L592.5 99.9L584.5 102.8L573.8 106.0L526.7 118.5L530.8 121.6L532.8 121.1L576.7 108.7L595.3 102.5Z" fill="#4f23f0"/>
<path d="M593.5 100.9L590.9 98.4L583.7 101.0L572.9 104.2L524.4 116.6L528.2 119.6L530.2 119.2L575.6 106.8L593.5 100.9Z" fill="#3427f0"/>
<path d="M591.8 99.3L589.5 96.8L582.3 99.4L572.2 102.3L522.3 114.8L525.8 117.8L526.8 117.5L573.1 105.4L583.9 102.1L591.8 99.3Z" fill="#243cf1"/>
<path d="M590.4 97.8L588.2 95.3L572.4 100.3L520.4 113.1L523.6 115.9L572.3 103.5L582.4 100.6L590.4 97.8Z" fill="#1d5ef4"/>
<path d="M589.0 96.2L587.0 93.8L579.6 96.3L570.9 98.7L541.6 105.5L518.6 111.3L521.5 114.1L572.4 101.5L581.7 98.8L589.0 96.2Z" fill="#1680f6"/>
<path d="M587.7 94.7L585.8 92.3L571.2 96.8L540.5 103.6L517.0 109.6L519.7 112.4L571.8 99.7L587.7 94.7Z" fill="#10a2f8"/>
<path d="M586.5 93.2L584.7 90.8L570.8 95.0L538.0 102.1L515.5 108.0L517.9 110.6L540.8 104.8L571.2 97.9L586.5 93.2Z" fill="#16bbf8"/>
<path d="M585.3 91.7L583.6 89.4L571.2 93.1L537.2 100.2L514.1 106.3L516.4 109.0L539.9 102.9L571.5 95.9L585.3 91.7Z" fill="#1bd4f8"/>
<path d="M584.2 90.2L582.5 87.9L570.8 91.3L537.4 98.2L512.8 104.7L514.9 107.3L538.9 101.1L571.1 94.2L584.2 90.2Z" fill="#1fe8f0"/>
<path d="M583.2 88.8L581.5 86.4L567.9 90.2L534.5 96.9L511.6 103.1L513.5 105.6L537.4 99.4L570.7 92.4L583.2 88.8Z" fill="#1deac6"/>
<path d="M582.1 87.3L580.5 85.0L566.7 88.7L533.1 95.3L510.4 101.5L512.3 104.0L535.0 98.0L567.8 91.3L582.1 87.3Z" fill="#1aeb9b"/>
<path d="M581.1 85.8L579.5 83.5L567.3 86.8L541.0 91.7L529.8 94.2L511.1 99.4L510.0 100.8L511.1 102.4L533.7 96.3L567.4 89.6L581.1 85.8Z" fill="#17ed70"/>
<path d="M580.1 84.4L578.5 82.1L566.2 85.3L533.3 91.5L513.0 97.0L510.0 100.8L533.9 94.3L566.2 88.1L580.1 84.4Z" fill="#14ee46"/>
<path d="M579.1 82.9L577.6 80.6L565.1 83.8L533.3 89.7L515.1 94.6L511.9 98.5L534.0 92.4L566.0 86.4L579.1 82.9Z" fill="#11f01b"/>
<path d="M578.1 81.5L576.6 79.2L564.9 82.1L533.1 87.9L517.2 92.1L513.8 96.1L534.0 90.6L565.7 84.7L578.1 81.5Z" fill="#27f20e"/>
<path d="M577.2 80.0L575.7 77.7L564.7 80.5L532.9 86.2L519.2 89.8L515.9 93.6L533.9 88.8L564.6 83.2L577.2 80.0Z" fill="#45f50b"/>
<path d="M576.3 78.6L574.8 76.3L563.7 79.0L534.2 84.1L521.1 87.4L518.0 91.2L533.7 87.1L564.4 81.5L576.3 78.6Z" fill="#64f708"/>
<path d="M575.3 77.1L573.9 74.8L562.6 77.5L533.8 82.5L522.8 85.2L520.0 88.8L535.0 85.0L564.3 79.9L575.3 77.1Z" fill="#82fa06"/>
<path d="M574.4 75.7L572.9 73.4L562.5 75.8L535.0 80.6L524.4 83.1L521.8 86.5L536.2 83.0L563.2 78.4L574.4 75.7Z" fill="#a1fc03"/>
<path d="M573.5 74.3L572.0 72.0L562.4 74.2L534.5 79.0L525.8 81.0L523.5 84.3L535.8 81.4L563.1 76.7L573.5 74.3Z" fill="#bfff00"/>
<path d="M572.6 72.8L571.1 70.5L561.4 72.7L535.5 77.1L527.0 79.0L525.0 82.2L538.4 79.2L563.9 74.9L572.6 72.8Z" fill="#d8ff00"/>
<path d="M571.7 71.4L570.2 69.1L561.4 71.1L536.4 75.3L528.2 77.1L526.3 80.2L539.3 77.4L562.9 73.4L571.7 71.4Z" fill="#f1ff00"/>
<path d="M570.8 69.9L569.4 67.6L560.4 69.6L535.8 73.8L529.3 75.2L527.5 78.2L538.8 75.8L562.0 72.0L570.8 69.9Z" fill="#fff800"/>
<path d="M569.9 68.5L568.5 66.2L560.4 68.0L536.7 72.0L530.3 73.3L528.6 76.3L539.7 74.0L561.9 70.3L569.9 68.5Z" fill="#ffe800"/>
<path d="M569.0 67.1L567.6 64.8L559.5 66.6L537.5 70.3L531.2 71.5L529.7 74.4L561.0 68.9L569.0 67.1Z" fill="#ffd400"/>
<path d="M568.1 65.6L566.7 63.3L558.6 65.1L538.2 68.5L532.0 69.7L530.6 72.6L560.0 67.4L568.1 65.6Z" fill="#ffbb00"/>
<path d="M567.2 64.2L565.9 61.9L558.6 63.5L537.5 67.1L532.8 68.0L531.5 70.8L560.0 65.8L567.2 64.2Z" fill="#ffa200"/>
<path d="M566.4 62.8L565.0 60.5L538.2 65.4L533.6 66.3L532.4 69.0L558.2 64.5L566.4 62.8Z" fill="#ff8900"/>
<path d="M565.5 61.3L564.2 59.1L538.9 63.7L534.3 64.5L533.1 67.3L565.5 61.3Z" fill="#ff7101"/>
<path d="M564.7 59.9L563.3 57.6L538.1 62.3L535.0 62.8L533.9 65.6L564.7 59.9Z" fill="#ff5a04"/>
<path d="M563.8 58.5L562.5 56.2L535.7 61.2L534.6 63.9L563.8 58.5Z" fill="#ff4406"/>
<path d="M563.0 57.1L561.7 54.8L536.3 59.5L535.3 62.2L563.0 57.1Z" fill="#fe2e09"/>
<path d="M562.2 55.6L560.9 53.4L536.9 57.8L535.9 60.5L562.2 55.6Z" fill="#f8230c"/>
<path d="M561.4 54.2L560.2 52.0L537.5 56.2L536.5 58.8L561.4 54.2Z" fill="#f21710"/>
<path d="M560.6 52.8L559.4 50.5L538.1 54.6L537.2 57.2L560.6 52.8Z" fill="#ef1212"/>
<path d="M559.9 51.4L558.7 49.1L538.6 52.9L537.7 55.6L559.9 51.4Z" fill="#ed1212"/>
<path d="M559.1 50.0L558.0 47.7L539.2 51.3L538.3 53.9L559.1 50.0Z" fill="#eb1313"/>
<path d="M558.4 48.6L557.3 46.3L539.7 49.7L538.9 52.3L558.4 48.6Z" fill="#e91313"/>
<path d="M557.7 47.2L556.7 44.9L540.3 48.1L539.4 50.7L557.7 47.2Z" fill="#e71313"/>
<path d="M557.1 45.7L556.0 43.5L540.8 46.5L540.0 49.1L557.1 45.7Z" fill="#e51313"/>
<path d="M556.4 44.3L555.4 42.1L541.3 44.9L540.5 47.5L556.4 44.3Z" fill="#e31414"/>
<path d="M555.8 42.9L554.8 40.7L541.9 43.3L541.0 45.9L555.8 42.9Z" fill="#e11414"/>
<path d="M555.2 41.5L554.3 39.3L542.4 41.7L541.5 44.3L555.2 41.5Z" fill="#dc1313"/>
<path d="M554.6 40.1L553.7 37.9L542.9 40.1L542.1 42.7L554.6 40.1Z" fill="#d51111"/>
<path d="M554.0 38.7L553.1 36.5L543.4 38.5L542.6 41.1L554.0 38.7Z" fill="#ce0f0f"/>
<path d="M553.5 37.3L552.7 35.1L544.0 36.9L543.1 39.5L553.5 37.3Z" fill="#c60e0e"/>
<path d="M553.0 36.0L552.2 33.7L544.5 35.3L543.7 37.9L553.0 36.0Z" fill="#bf0c0c"/>
<path d="M552.5 34.5L551.6 32.3L545.1 33.7L544.2 36.3L552.5 34.5Z" fill="#b40b0b"/>
<path d="M552.0 33.2L551.2 30.9L545.7 32.1L544.8 34.7L552.0 33.2Z" fill="#aa0a0a"/>
<path d="M551.5 31.8L550.8 29.5L546.4 30.5L545.4 33.1L551.5 31.8Z" fill="#9f0909"/>
<path d="M551.0 30.4L550.3 28.1L549.5 28.3L547.1 28.9L546.0 31.5L551.0 30.4Z" fill="#940808"/>
<path d="M550.6 29.0L549.9 26.8L547.9 27.2L546.6 29.9L550.6 29.0Z" fill="#8a0707"/>
<path d="M550.1 27.6L549.5 25.4L548.9 25.5L547.4 28.2L550.1 27.6Z" fill="#810505"/>
<path d="M549.7 26.2L549.3 24.9L548.3 26.5L549.7 26.2Z" fill="#770404"/>
<path d="M535.4 124.8L548.5 121.2L599.2 105.2M520.0 112.7L572.1 100.0L588.0 95.0M510.9 102.1L534.1 95.8L567.2 89.3L580.9 85.6M521.1 87.4L535.8 83.8L563.7 79.0L574.8 76.3M529.7 74.4L561.0 68.9L569.0 67.1M534.9 63.2L563.5 57.9M538.8 52.6L558.6 48.8M542.2 42.4L554.5 39.9M545.7 32.1L551.2 30.9" stroke="#000" stroke-opacity="0.25" stroke-width="0.5" fill="none"/>
<circle cx="508.5" cy="100.6" r="1.3" fill="#f00"/><circle cx="522.5" cy="115.7" r="1.3" fill="#f00"/><circle cx="536.6" cy="125.3" r="1.3" fill="#f00"/><circle cx="551.0" cy="134.1" r="1.3" fill="#f00"/><circle cx="566.0" cy="141.9" r="1.3" fill="#f00"/><circle cx="576.2" cy="133.8" r="1.3" fill="#f00"/><circle cx="586.2" cy="125.6" r="1.3" fill="#f00"/><circle cx="595.5" cy="116.8" r="1.3" fill="#f00"/><circle cx="604.0" cy="107.4" r="1.3" fill="#f00"/>
<path d="M498.4 133.8L488.1 24.4M498.4 133.8L592.3 155.8M592.3 155.8L644.4 114.7M498.4 133.8h2M496.8 116.6h2M495.1 99.0h2M493.4 81.0h2M491.7 62.6h2M490.0 43.7h2M488.1 24.4h2M498.4 133.8v-2.2M515.4 137.8v-2.2M533.3 142.0v-2.2M552.0 146.4v-2.2M571.7 151.0v-2.2M592.3 155.8v-2.2M592.3 155.8v-2.2M607.2 144.1v-2.2M620.7 133.4v-2.2M633.0 123.7v-2.2M644.4 114.7v-2.2" stroke="#555" stroke-width="0.9" fill="none"/>
<g font-family="Liberation Serif, serif" font-size="11.20" fill="#1a1a1a" stroke="#1a1a1a" stroke-width="0.18"><text transform="translate(495.4 137.8) scale(1 1.060)" text-anchor="end">0.0</text><text transform="translate(493.8 120.7) scale(1 1.060)" text-anchor="end">0.5</text><text transform="translate(492.1 103.1) scale(1 1.060)" text-anchor="end">1.0</text><text transform="translate(490.4 85.0) scale(1 1.060)" text-anchor="end">1.5</text><text transform="translate(488.7 66.6) scale(1 1.060)" text-anchor="end">2.0</text><text transform="translate(487.0 47.7) scale(1 1.060)" text-anchor="end">2.5</text><text transform="translate(485.1 28.4) scale(1 1.060)" text-anchor="end">3.0</text><text transform="translate(499.7 145.8) scale(1 1.060)" text-anchor="middle">2.0</text><text transform="translate(515.4 151.8) scale(1 1.060)" text-anchor="middle">1.6</text><text transform="translate(533.2 155.2) scale(1 1.060)" text-anchor="middle">1.2</text><text transform="translate(552.4 160.9) scale(1 1.060)" text-anchor="middle">0.8</text><text transform="translate(571.9 165.3) scale(1 1.060)" text-anchor="middle">0.4</text><text transform="translate(592.7 171.0) scale(1 1.060)" text-anchor="middle">0.0</text><text transform="translate(612.4 160.1) scale(1 1.060)" text-anchor="middle">6.0</text><text transform="translate(625.1 148.5) scale(1 1.060)" text-anchor="middle">4.5</text><text transform="translate(637.1 139.2) scale(1 1.060)" text-anchor="middle">3.0</text><text transform="translate(648.3 129.9) scale(1 1.060)" text-anchor="middle">1.5</text><text transform="translate(658.4 121.0) scale(1 1.060)" text-anchor="middle">0.0</text></g>
<g font-family="Liberation Serif, serif" fill="#1a1a1a" stroke="#1a1a1a" stroke-width="0.18"><text transform="translate(469.9 82.7) rotate(-95.3)" text-anchor="middle" dy="0.3em" font-size="11.29">Gas flow rate (L·min<tspan font-size="0.68em" dy="-0.4em">-1</tspan><tspan dy="0.4em">)</tspan></text><text transform="translate(539.8 166.3) rotate(14.1)" text-anchor="middle" dy="0.3em" font-size="11.49">Gas pressure (MPa)</text><text transform="translate(640.7 149.0) rotate(-42.2)" text-anchor="middle" dy="0.3em" font-size="11.44">Effective stress (MPa)</text></g>
<text font-family="Liberation Serif, serif" font-size="12.05" fill="#1a1a1a" stroke="#1a1a1a" stroke-width="0.18" x="575.8" y="27.0">(c)<tspan font-style="italic">w</tspan>= 3.43 %</text>
<linearGradient id="gc" x1="0" y1="1" x2="0" y2="0"><stop offset="0.000" stop-color="#5a0070"/><stop offset="0.060" stop-color="#8000c0"/><stop offset="0.100" stop-color="#8000ff"/><stop offset="0.155" stop-color="#0000ff"/><stop offset="0.210" stop-color="#00a0ff"/><stop offset="0.255" stop-color="#00ffff"/><stop offset="0.340" stop-color="#00ff00"/><stop offset="0.430" stop-color="#c0ff00"/><stop offset="0.470" stop-color="#ffff00"/><stop offset="0.500" stop-color="#ffe000"/><stop offset="0.560" stop-color="#ff8000"/><stop offset="0.615" stop-color="#ff3000"/><stop offset="0.655" stop-color="#ff0000"/><stop offset="0.830" stop-color="#f00000"/><stop offset="0.885" stop-color="#b00000"/><stop offset="0.956" stop-color="#700000"/><stop offset="1.000" stop-color="#500000"/></linearGradient>
<rect x="647.8" y="15.2" width="11.5" height="72.6" fill="url(#gc)"/>
<path d="M659.3 19.9h2M659.3 34.2h2M659.3 48.4h2M659.3 62.7h2M659.3 76.9h2" stroke="#777" stroke-width="0.8"/>
<g font-family="Liberation Serif, serif" font-size="11.20" fill="#1a1a1a" stroke="#1a1a1a" stroke-width="0.18"><text transform="translate(663.3 23.9) scale(1 1.060)" text-anchor="start">2.5</text><text transform="translate(663.3 38.2) scale(1 1.060)" text-anchor="start">2.0</text><text transform="translate(663.3 52.4) scale(1 1.060)" text-anchor="start">1.5</text><text transform="translate(663.3 66.7) scale(1 1.060)" text-anchor="start">1.0</text><text transform="translate(663.3 80.9) scale(1 1.060)" text-anchor="start">0.5</text></g>
<path d="M38.7 334.9L99.1 303.4M99.1 303.4L185.7 317.8M37.5 312.2L98.6 284.1M98.6 284.1L186.0 296.5M36.2 289.0L98.1 264.4M98.1 264.4L186.3 274.9M34.9 265.4L97.6 244.3M97.6 244.3L186.6 252.8M33.6 241.1L97.0 223.9M97.0 223.9L186.9 230.2M32.2 216.4L96.5 203.1M96.5 203.1L187.3 207.2M99.1 303.4L96.5 203.1M99.1 303.4L185.7 317.8M85.9 310.3L82.5 206.0M85.9 310.3L175.0 326.1M71.5 317.8L67.3 209.1M71.5 317.8L163.3 335.2M55.9 326.0L50.6 212.6M55.9 326.0L150.4 345.2M38.7 334.9L32.2 216.4M38.7 334.9L136.1 356.3M185.7 317.8L187.3 207.2M136.1 356.3L185.7 317.8M167.0 314.7L167.6 206.3M114.7 351.6L167.0 314.7M149.0 311.7L148.7 205.5M94.4 347.1L149.0 311.7M131.8 308.8L130.6 204.6M75.0 342.9L131.8 308.8M115.1 306.1L113.2 203.8M56.4 338.8L115.1 306.1M99.1 303.4L96.5 203.1M38.7 334.9L99.1 303.4" stroke="#f0f0f0" stroke-width="0.6" fill="none"/>
<path d="M32.2 216.4L96.5 203.1M96.5 203.1L187.3 207.2M99.1 303.4L96.5 203.1M185.7 317.8L187.3 207.2M38.7 334.9L99.1 303.4M99.1 303.4L185.7 317.8" stroke="#a8a8a8" stroke-width="0.7" fill="none"/>
<path d="M128.0 328.4L112.2 336.1L106.4 337.5L99.1 338.3L109.7 343.4L114.8 338.4L128.0 328.4Z" fill="#822196"/>
<path d="M132.5 323.9L109.2 333.5L101.9 335.0L94.1 335.7L102.3 339.9L108.1 339.3L112.2 338.4L117.1 336.3L121.8 333.3L127.5 328.8L132.5 323.9Z" fill="#8622a3"/>
<path d="M135.6 320.3L106.6 330.9L99.0 332.4L89.4 333.1L97.1 337.2L103.3 336.7L108.9 335.7L114.3 333.7L130.4 326.2L135.6 320.3Z" fill="#8821b3"/>
<path d="M138.3 317.2L104.2 328.5L95.0 330.0L84.9 330.6L92.2 334.6L100.2 334.0L106.9 332.8L112.5 330.9L134.0 322.2L138.3 317.2Z" fill="#8920c6"/>
<path d="M146.3 310.8L146.1 310.4L145.7 310.8L146.3 310.8ZM141.3 313.8L131.4 317.2L102.9 325.8L92.5 327.5L80.4 328.1L87.6 332.1L97.4 331.5L104.3 330.3L110.4 328.5L136.9 318.9L141.3 313.8Z" fill="#8a1ed8"/>
<path d="M146.3 310.8L145.2 308.8L141.7 311.2L135.1 313.9L100.8 323.5L90.2 325.1L75.9 325.7L83.0 329.6L93.4 329.1L101.9 327.8L109.8 325.6L138.3 316.1L139.6 315.6L143.4 311.9L146.3 310.8Z" fill="#831ee2"/>
<path d="M145.7 309.8L144.3 307.2L140.2 309.8L132.8 312.5L107.9 319.1L97.1 321.5L85.0 322.9L71.5 323.2L78.6 327.1L89.5 326.7L98.6 325.6L107.7 323.4L134.5 315.4L141.8 312.5L145.7 309.8Z" fill="#7c1eeb"/>
<path d="M144.6 308.5L144.8 308.2L143.4 305.6L139.8 307.9L132.7 310.5L99.8 318.4L84.7 320.4L67.1 320.8L74.1 324.7L85.6 324.4L95.5 323.4L106.0 321.1L132.5 313.9L140.3 311.1L144.6 308.5Z" fill="#6b20f0"/>
<path d="M143.9 306.6L142.6 304.0L138.3 306.6L130.0 309.2L105.3 314.8L93.2 317.0L79.1 318.3L62.8 318.4L69.7 322.2L82.5 322.1L93.3 321.1L104.2 319.0L131.2 312.2L139.3 309.4L142.2 307.9L143.9 306.6Z" fill="#4f23f0"/>
<path d="M143.1 305.0L141.7 302.4L137.3 304.9L128.8 307.5L106.0 312.3L91.0 314.8L77.3 316.0L58.8 316.1L65.4 319.8L79.6 319.7L91.4 318.8L103.8 316.5L130.0 310.4L138.3 307.8L141.3 306.3L143.1 305.0Z" fill="#3427f0"/>
<path d="M142.2 303.4L140.9 300.8L136.4 303.3L127.5 305.8L105.1 310.2L89.3 312.7L74.9 313.8L55.1 313.9L61.2 317.5L77.6 317.4L89.6 316.5L103.2 314.2L128.3 308.8L137.3 306.1L140.4 304.7L142.2 303.4Z" fill="#243cf1"/>
<path d="M141.4 301.8L140.0 299.2L136.0 301.4L128.1 303.7L94.9 309.6L78.5 311.3L52.4 311.7L52.3 312.0L57.3 315.2L75.1 315.1L88.1 314.2L102.5 312.0L127.5 307.0L136.3 304.5L139.5 303.1L141.4 301.8Z" fill="#1d5ef4"/>
<path d="M140.2 300.4L140.5 300.2L139.2 297.6L136.2 299.3L131.7 300.9L114.8 304.3L95.4 307.3L83.4 308.7L71.8 309.3L53.6 309.6L52.3 312.0L53.8 313.0L69.6 313.0L80.7 312.5L91.3 311.5L108.5 308.7L127.1 305.1L135.4 302.9L140.2 300.4Z" fill="#1680f6"/>
<path d="M139.7 298.6L138.3 296.0L134.2 298.2L126.8 300.1L97.0 304.8L77.3 306.9L54.7 307.4L52.9 310.8L76.0 310.5L94.4 308.7L127.6 303.1L135.6 300.8L139.7 298.6Z" fill="#10a2f8"/>
<path d="M138.8 297.0L137.5 294.5L133.8 296.3L127.2 298.1L102.2 302.0L78.7 304.6L55.9 305.3L54.1 308.7L77.5 308.2L96.1 306.3L127.3 301.2L134.7 299.1L138.8 297.0Z" fill="#16baf8"/>
<path d="M138.0 295.4L136.7 292.9L133.5 294.5L127.8 296.1L108.3 299.2L81.1 302.3L56.9 303.3L55.2 306.6L78.1 306.0L98.9 303.7L127.0 299.3L133.8 297.5L138.0 295.4Z" fill="#1bd4f8"/>
<path d="M137.2 293.8L135.8 291.3L133.2 292.7L128.4 294.1L111.8 296.8L81.3 300.2L58.0 301.2L56.3 304.5L80.3 303.6L105.2 300.8L127.6 297.3L133.5 295.7L137.2 293.8Z" fill="#1fe8f0"/>
<path d="M136.0 292.5L136.3 292.2L135.0 289.7L132.3 291.1L127.4 292.4L112.8 294.7L81.5 298.1L59.0 299.2L57.4 302.4L80.6 301.5L107.6 298.5L126.5 295.6L132.5 294.1L136.0 292.5Z" fill="#1deac6"/>
<path d="M135.5 290.6L134.1 288.1L131.4 289.4L127.1 290.6L113.8 292.7L82.7 296.0L60.0 297.2L58.4 300.4L81.9 299.3L112.2 296.0L128.0 293.4L132.8 292.0L135.5 290.6Z" fill="#1aeb9b"/>
<path d="M134.6 289.0L133.3 286.5L131.0 287.6L126.9 288.8L113.5 290.9L81.6 294.0L61.0 295.2L59.4 298.4L82.0 297.2L113.2 293.9L127.8 291.6L131.9 290.4L134.6 289.0Z" fill="#17ed70"/>
<path d="M133.8 287.5L132.4 284.9L130.1 286.0L125.9 287.2L114.4 288.9L82.7 292.0L61.9 293.2L60.4 296.4L83.2 295.1L114.1 291.9L127.5 289.8L131.6 288.6L133.8 287.5Z" fill="#14ee46"/>
<path d="M132.9 285.9L131.5 283.3L125.7 285.4L114.1 287.1L83.8 290.0L62.8 291.2L61.4 294.4L82.1 293.2L113.9 290.1L126.5 288.1L130.6 287.0L132.9 285.9Z" fill="#11f01b"/>
<path d="M131.7 284.5L132.1 284.3L130.7 281.7L124.6 283.7L113.8 285.3L83.7 288.0L63.7 289.3L62.3 292.4L83.2 291.2L113.6 288.3L125.5 286.5L131.7 284.5Z" fill="#27f20e"/>
<path d="M131.2 282.7L129.8 280.2L124.4 281.9L114.6 283.4L84.7 286.1L64.6 287.3L63.2 290.4L83.1 289.2L114.4 286.3L125.3 284.7L131.2 282.7Z" fill="#45f50b"/>
<path d="M130.3 281.1L128.9 278.6L123.4 280.3L114.2 281.6L85.6 284.1L65.5 285.4L64.1 288.5L84.1 287.2L114.1 284.6L124.2 283.1L130.3 281.1Z" fill="#64f708"/>
<path d="M129.4 279.5L128.0 277.0L122.3 278.7L113.1 279.9L66.3 283.5L65.0 286.6L85.0 285.3L113.7 282.8L124.0 281.3L129.4 279.5Z" fill="#82fa06"/>
<path d="M128.5 277.9L127.0 275.4L122.1 276.9L113.0 278.2L67.2 281.6L65.8 284.6L113.4 281.0L123.0 279.6L128.5 277.9Z" fill="#a1fc03"/>
<path d="M127.6 276.3L126.1 273.8L121.0 275.3L112.9 276.4L68.0 279.7L66.7 282.7L113.0 279.2L122.7 277.9L127.6 276.3Z" fill="#bfff00"/>
<path d="M126.7 274.7L125.2 272.2L120.0 273.6L111.7 274.7L68.8 277.9L67.5 280.9L112.5 277.5L121.7 276.2L126.7 274.7Z" fill="#d8ff00"/>
<path d="M125.7 273.2L124.2 270.6L119.7 271.9L111.6 272.9L69.6 276.0L68.3 279.0L112.4 275.7L120.6 274.6L125.7 273.2Z" fill="#f1ff00"/>
<path d="M124.8 271.6L123.2 269.0L118.6 270.2L110.3 271.3L70.3 274.2L69.1 277.1L111.2 274.1L119.5 273.0L124.8 271.6Z" fill="#fff800"/>
<path d="M123.8 270.0L122.3 267.4L117.5 268.6L110.3 269.5L71.1 272.3L69.9 275.3L111.1 272.3L119.3 271.2L123.8 270.0Z" fill="#ffe800"/>
<path d="M122.8 268.4L121.3 265.8L116.4 267.0L109.0 267.9L71.8 270.5L70.6 273.4L111.0 270.5L118.2 269.6L122.8 268.4Z" fill="#ffd400"/>
<path d="M121.9 266.8L120.3 264.2L116.2 265.2L109.0 266.1L72.5 268.7L71.4 271.6L109.8 268.9L117.1 268.0L121.9 266.8Z" fill="#ffbb00"/>
<path d="M120.9 265.2L119.3 262.7L115.1 263.6L107.8 264.5L73.2 266.9L72.1 269.8L108.5 267.2L116.0 266.4L120.9 265.2Z" fill="#ffa200"/>
<path d="M119.9 263.6L118.2 261.1L114.0 262.0L106.5 262.9L74.0 265.1L72.8 268.0L108.5 265.5L115.8 264.6L119.9 263.6Z" fill="#ff8900"/>
<path d="M118.9 262.0L117.2 259.5L106.5 261.1L74.6 263.3L73.5 266.2L107.3 263.8L114.6 263.0L118.9 262.0Z" fill="#ff7101"/>
<path d="M117.8 260.4L116.2 257.9L105.3 259.5L75.3 261.5L74.2 264.4L107.2 262.1L113.5 261.4L117.8 260.4Z" fill="#ff5a04"/>
<path d="M116.8 258.8L115.2 256.3L104.1 257.9L76.0 259.7L74.9 262.6L106.0 260.5L116.8 258.8Z" fill="#ff4406"/>
<path d="M115.8 257.3L114.2 254.7L104.1 256.1L76.7 258.0L75.6 260.8L104.8 258.8L115.8 257.3Z" fill="#fe2e09"/>
<path d="M114.8 255.7L113.2 253.1L103.0 254.5L77.3 256.2L76.3 259.0L104.8 257.1L114.8 255.7Z" fill="#f8230c"/>
<path d="M113.8 254.1L112.1 251.6L101.8 252.9L78.0 254.5L76.9 257.3L103.7 255.5L113.8 254.1Z" fill="#f21710"/>
<path d="M112.7 252.5L111.1 250.0L101.8 251.2L78.6 252.7L77.6 255.5L102.5 253.9L112.7 252.5Z" fill="#ef1212"/>
<path d="M111.7 250.9L110.1 248.4L100.7 249.6L79.2 251.0L78.2 253.8L101.3 252.3L111.7 250.9Z" fill="#ed1212"/>
<path d="M110.7 249.3L109.1 246.8L99.5 248.0L79.9 249.3L78.9 252.0L101.4 250.6L110.7 249.3Z" fill="#eb1313"/>
<path d="M109.7 247.8L108.1 245.2L98.4 246.4L80.5 247.5L79.5 250.3L100.2 249.0L109.7 247.8Z" fill="#e91313"/>
<path d="M108.7 246.2L107.1 243.7L98.5 244.7L81.1 245.8L80.1 248.6L99.1 247.4L108.7 246.2Z" fill="#e71313"/>
<path d="M107.7 244.6L106.2 242.1L97.4 243.1L81.7 244.1L80.7 246.8L99.1 245.7L107.7 244.6Z" fill="#e51313"/>
<path d="M106.7 243.0L105.2 240.5L97.4 241.4L82.3 242.4L81.3 245.1L98.0 244.1L106.7 243.0Z" fill="#e31414"/>
<path d="M105.8 241.5L104.2 239.0L82.9 240.7L82.0 243.4L96.9 242.5L105.8 241.5Z" fill="#e11414"/>
<path d="M104.8 239.9L103.3 237.4L83.5 239.0L82.6 241.7L104.8 239.9Z" fill="#dc1313"/>
<path d="M103.8 238.3L102.3 235.8L84.2 237.3L83.2 240.0L103.8 238.3Z" fill="#d51111"/>
<path d="M102.9 236.8L101.4 234.3L84.8 235.6L83.8 238.3L102.9 236.8Z" fill="#ce0f0f"/>
<path d="M101.9 235.2L100.4 232.7L85.4 233.9L84.4 236.6L101.9 235.2Z" fill="#c60e0e"/>
<path d="M101.0 233.7L99.5 231.2L86.0 232.2L85.0 234.9L101.0 233.7Z" fill="#bf0c0c"/>
<path d="M100.1 232.1L98.5 229.6L86.6 230.5L85.6 233.2L100.1 232.1Z" fill="#b40b0b"/>
<path d="M99.1 230.5L97.6 228.1L87.2 228.8L86.2 231.5L99.1 230.5Z" fill="#aa0a0a"/>
<path d="M98.2 229.0L96.7 226.5L87.8 227.2L86.8 229.8L98.2 229.0Z" fill="#9f0909"/>
<path d="M97.2 227.4L95.7 225.0L88.5 225.5L87.5 228.2L97.2 227.4Z" fill="#940808"/>
<path d="M96.3 225.9L94.7 223.4L89.1 223.8L88.1 226.5L96.3 225.9Z" fill="#8a0707"/>
<path d="M95.3 224.3L93.7 221.8L89.8 222.1L88.7 224.8L95.3 224.3Z" fill="#810505"/>
<path d="M94.3 222.8L92.7 220.3L90.4 220.5L89.4 223.1L94.3 222.8Z" fill="#770404"/>
<path d="M93.3 221.2L91.7 218.7L91.1 218.8L90.0 221.5L93.3 221.2Z" fill="#6e0202"/>
<path d="M92.3 219.7L91.3 218.2L90.7 219.8L92.3 219.7Z" fill="#650101"/>
<path d="M76.8 326.1L92.3 325.4L104.0 323.3L135.4 314.2L141.9 311.6L145.4 309.1M52.7 311.3L76.7 310.9L94.0 309.2L127.5 303.5L135.2 301.3L139.8 298.9M59.6 298.0L82.2 296.8L113.4 293.5L127.6 291.3L131.7 290.1L134.5 288.7M65.5 285.4L114.2 281.6L123.4 280.3L128.9 278.6M70.6 273.4L111.0 270.5L118.2 269.6L122.8 268.4M75.2 261.9L105.6 259.8L116.4 258.2M79.4 250.6L100.4 249.3L109.9 248.1M83.3 239.6L103.7 238.0M87.2 228.8L97.6 228.1" stroke="#000" stroke-opacity="0.25" stroke-width="0.5" fill="none"/>
<circle cx="51.3" cy="312.3" r="1.3" fill="#f00"/><circle cx="64.9" cy="314.9" r="1.3" fill="#f00"/><circle cx="79.0" cy="326.9" r="1.3" fill="#f00"/><circle cx="94.0" cy="336.3" r="1.3" fill="#f00"/><circle cx="109.0" cy="343.5" r="1.3" fill="#f00"/><circle cx="119.0" cy="335.0" r="1.3" fill="#f00"/><circle cx="128.6" cy="328.0" r="1.3" fill="#f00"/><circle cx="137.6" cy="317.9" r="1.3" fill="#f00"/><circle cx="145.7" cy="310.8" r="1.3" fill="#f00"/>
<path d="M38.7 334.9L32.2 216.4M38.7 334.9L136.1 356.3M136.1 356.3L185.7 317.8M38.7 334.9h2M37.5 312.2h2M36.2 289.0h2M34.9 265.4h2M33.6 241.1h2M32.2 216.4h2M38.7 334.9v-2.2M56.4 338.8v-2.2M75.0 342.9v-2.2M94.4 347.1v-2.2M114.7 351.6v-2.2M136.1 356.3v-2.2M136.1 356.3v-2.2M150.4 345.2v-2.2M163.3 335.2v-2.2M175.0 326.1v-2.2M185.7 317.8v-2.2" stroke="#555" stroke-width="0.9" fill="none"/>
<g font-family="Liberation Serif, serif" font-size="11.40" fill="#1a1a1a" stroke="#1a1a1a" stroke-width="0.18"><text transform="translate(35.7 339.4) scale(1 1.170)" text-anchor="end">0.0</text><text transform="translate(34.5 316.7) scale(1 1.170)" text-anchor="end">0.3</text><text transform="translate(33.2 293.6) scale(1 1.170)" text-anchor="end">0.6</text><text transform="translate(31.9 269.9) scale(1 1.170)" text-anchor="end">0.9</text><text transform="translate(30.6 245.6) scale(1 1.170)" text-anchor="end">1.2</text><text transform="translate(29.2 220.9) scale(1 1.170)" text-anchor="end">1.5</text><text transform="translate(39.6 348.7) scale(1 1.170)" text-anchor="middle">2.0</text><text transform="translate(57.8 353.7) scale(1 1.170)" text-anchor="middle">1.6</text><text transform="translate(75.6 358.1) scale(1 1.170)" text-anchor="middle">1.2</text><text transform="translate(95.0 362.5) scale(1 1.170)" text-anchor="middle">0.8</text><text transform="translate(115.2 367.5) scale(1 1.170)" text-anchor="middle">0.4</text><text transform="translate(137.7 371.5) scale(1 1.170)" text-anchor="middle">0.0</text><text transform="translate(152.5 363.8) scale(1 1.170)" text-anchor="middle">6.0</text><text transform="translate(165.3 353.3) scale(1 1.170)" text-anchor="middle">4.5</text><text transform="translate(176.9 343.2) scale(1 1.170)" text-anchor="middle">3.0</text><text transform="translate(187.7 335.5) scale(1 1.170)" text-anchor="middle">1.5</text><text transform="translate(196.6 326.9) scale(1 1.170)" text-anchor="middle">0.0</text></g>
<g font-family="Liberation Serif, serif" fill="#1a1a1a" stroke="#1a1a1a" stroke-width="0.18"><text transform="translate(9.6 277.6) rotate(-93.1)" text-anchor="middle" dy="0.3em" font-size="12.65">Gas flow rate (L·min<tspan font-size="0.68em" dy="-0.4em">-1</tspan><tspan dy="0.4em">)</tspan></text><text transform="translate(77.8 368.2) rotate(12.9)" text-anchor="middle" dy="0.3em" font-size="11.99">Gas pressure (MPa)</text><text transform="translate(183.1 351.1) rotate(-43.0)" text-anchor="middle" dy="0.3em" font-size="11.35">Effective stress (MPa)</text></g>
<text font-family="Liberation Serif, serif" font-size="12.15" fill="#1a1a1a" stroke="#1a1a1a" stroke-width="0.18" x="117.8" y="225.0">(d) <tspan font-style="italic">w</tspan>=4.79 %</text>
<linearGradient id="gd" x1="0" y1="1" x2="0" y2="0"><stop offset="0.000" stop-color="#5a0070"/><stop offset="0.060" stop-color="#8000c0"/><stop offset="0.100" stop-color="#8000ff"/><stop offset="0.155" stop-color="#0000ff"/><stop offset="0.210" stop-color="#00a0ff"/><stop offset="0.255" stop-color="#00ffff"/><stop offset="0.340" stop-color="#00ff00"/><stop offset="0.430" stop-color="#c0ff00"/><stop offset="0.470" stop-color="#ffff00"/><stop offset="0.500" stop-color="#ffe000"/><stop offset="0.560" stop-color="#ff8000"/><stop offset="0.615" stop-color="#ff3000"/><stop offset="0.655" stop-color="#ff0000"/><stop offset="0.830" stop-color="#f00000"/><stop offset="0.885" stop-color="#b00000"/><stop offset="0.956" stop-color="#700000"/><stop offset="1.000" stop-color="#500000"/></linearGradient>
<rect x="192.0" y="213.2" width="12.4" height="76.5" fill="url(#gd)"/>
<path d="M204.4 221.4h2M204.4 233.1h2M204.4 244.8h2M204.4 256.5h2M204.4 268.3h2M204.4 280.0h2" stroke="#777" stroke-width="0.8"/>
<clipPath id="cld"><rect x="0" y="0" width="222.3" height="400"/></clipPath>
<g font-family="Liberation Serif, serif" font-size="11.40" fill="#1a1a1a" stroke="#1a1a1a" stroke-width="0.18" clip-path="url(#cld)"><text transform="translate(210.8 225.9) scale(1 1.170)" text-anchor="start">1.2</text><text transform="translate(210.8 237.6) scale(1 1.170)" text-anchor="start">1.0</text><text transform="translate(210.8 249.3) scale(1 1.170)" text-anchor="start">0.8</text><text transform="translate(210.8 261.1) scale(1 1.170)" text-anchor="start">0.6</text><text transform="translate(210.8 272.8) scale(1 1.170)" text-anchor="start">0.4</text><text transform="translate(210.8 284.5) scale(1 1.170)" text-anchor="start">0.2</text></g>
<path d="M265.9 329.0L327.7 298.4M327.7 298.4L416.8 313.2M264.9 305.8L327.2 278.8M327.2 278.8L417.1 291.7M263.8 282.2L326.8 259.0M326.8 259.0L417.4 269.8M262.7 258.1L326.4 238.9M326.4 238.9L417.7 247.6M261.6 233.6L326.0 218.4M326.0 218.4L418.0 224.9M260.5 208.7L325.6 197.7M325.6 197.7L418.3 201.9M327.7 298.4L325.6 197.7M327.7 298.4L416.8 313.2M314.2 305.0L311.5 200.0M314.2 305.0L406.2 321.4M299.6 312.3L296.1 202.6M299.6 312.3L394.5 330.3M283.6 320.3L279.2 205.5M283.6 320.3L381.5 340.2M265.9 329.0L260.5 208.7M265.9 329.0L367.1 351.2M416.8 313.2L418.3 201.9M367.1 351.2L416.8 313.2M397.5 310.0L398.1 201.0M344.8 346.3L397.5 310.0M378.9 306.9L378.8 200.1M323.6 341.7L378.9 306.9M361.2 304.0L360.3 199.2M303.4 337.2L361.2 304.0M344.1 301.1L342.6 198.4M284.2 333.0L344.1 301.1M327.7 298.4L325.6 197.7M265.9 329.0L327.7 298.4" stroke="#f0f0f0" stroke-width="0.6" fill="none"/>
<path d="M260.5 208.7L325.6 197.7M325.6 197.7L418.3 201.9M327.7 298.4L325.6 197.7M416.8 313.2L418.3 201.9M265.9 329.0L327.7 298.4M327.7 298.4L416.8 313.2" stroke="#a8a8a8" stroke-width="0.7" fill="none"/>
<path d="M365.2 319.3L362.8 319.0L358.1 319.6L342.5 323.2L324.2 328.4L319.0 330.3L315.3 332.2L328.4 337.5L339.5 340.4L363.6 322.1L366.2 320.0L365.2 319.3Z" fill="#822196"/>
<path d="M371.8 313.5L367.3 313.3L359.1 314.9L319.4 324.8L313.0 326.8L308.5 328.9L320.2 334.3L324.6 332.1L330.1 330.0L346.6 325.4L356.0 323.8L358.5 324.0L359.7 325.2L372.7 314.0L371.8 313.5Z" fill="#8622a3"/>
<path d="M376.5 310.2L373.6 309.9L370.2 308.8L367.2 309.4L341.5 315.9L312.2 322.3L306.5 324.1L302.7 325.9L312.4 330.8L317.6 328.4L323.9 326.3L355.3 318.2L364.7 316.5L367.5 316.6L369.2 317.3L376.5 310.2Z" fill="#8821b3"/>
<path d="M376.5 310.2L371.4 309.3L365.8 306.4L341.0 313.0L306.5 319.8L301.5 321.3L297.8 323.1L306.0 327.7L310.6 325.6L316.3 323.8L362.8 312.5L370.4 311.2L373.0 311.4L374.7 312.1L376.5 310.2Z" fill="#8920c6"/>
<path d="M368.0 307.8L363.0 304.3L350.8 307.8L339.2 310.6L303.1 317.0L297.3 318.7L293.6 320.4L300.6 324.7L304.4 323.0L310.2 321.2L340.2 315.0L368.0 307.8Z" fill="#8a1ed8"/>
<path d="M364.6 305.6L360.8 302.3L348.7 305.7L336.8 308.5L300.4 314.3L294.5 315.9L290.2 317.9L296.0 322.0L299.8 320.2L305.6 318.6L339.0 312.3L364.6 305.6Z" fill="#831ee2"/>
<path d="M362.1 303.5L358.9 300.3L347.5 303.5L335.5 306.2L298.2 311.7L292.2 313.3L287.3 315.6L292.2 319.4L296.5 317.4L301.6 316.0L337.3 309.9L349.9 307.0L362.1 303.5Z" fill="#7c1eeb"/>
<path d="M360.0 301.5L357.2 298.4L346.6 301.4L334.5 304.0L296.4 309.3L289.6 311.1L284.8 313.3L288.9 317.0L293.2 315.0L299.0 313.4L336.8 307.4L347.9 304.9L360.0 301.5Z" fill="#6b20f0"/>
<path d="M358.2 299.5L355.7 296.5L345.0 299.4L333.6 301.8L294.9 306.9L288.1 308.6L282.8 311.1L286.3 314.7L291.1 312.4L297.0 310.8L334.7 305.4L346.8 302.7L358.2 299.5Z" fill="#4f23f0"/>
<path d="M356.6 297.6L354.4 294.6L343.6 297.5L331.9 299.8L293.8 304.6L286.2 306.5L280.9 309.0L284.0 312.4L288.7 310.2L295.4 308.4L333.7 303.1L346.0 300.6L356.6 297.6Z" fill="#3427f0"/>
<path d="M355.2 295.7L353.1 292.8L343.8 295.2L332.3 297.5L295.3 301.9L288.4 303.3L284.4 306.4L280.2 308.0L282.0 310.3L287.4 307.8L294.1 306.0L332.9 301.0L344.5 298.7L355.2 295.7Z" fill="#243cf1"/>
<path d="M353.9 293.9L351.9 290.9L342.6 293.4L330.8 295.5L294.2 299.7L291.1 300.3L288.4 303.3L285.3 305.8L290.3 304.3L297.1 303.0L322.9 300.1L334.2 298.5L344.6 296.4L353.9 293.9ZM280.3 308.1L280.7 307.9L280.3 308.1Z" fill="#1d5ef4"/>
<path d="M352.6 292.0L350.8 289.1L341.3 291.5L330.4 293.5L294.5 297.4L293.0 297.7L289.6 302.0L299.6 300.3L331.7 296.7L343.3 294.5L352.6 292.0Z" fill="#1680f6"/>
<path d="M351.5 290.2L349.7 287.3L341.0 289.5L330.0 291.4L294.5 295.2L291.9 299.2L300.2 298.0L331.2 294.6L342.1 292.6L351.5 290.2Z" fill="#10a2f8"/>
<path d="M350.4 288.4L348.7 285.5L339.1 287.8L328.7 289.5L295.8 292.9L293.7 296.7L329.8 292.7L340.9 290.7L350.4 288.4Z" fill="#16baf8"/>
<path d="M349.3 286.6L347.7 283.7L338.9 285.8L328.6 287.5L297.0 290.6L295.1 294.3L329.5 290.6L339.7 288.9L349.3 286.6Z" fill="#1bd4f8"/>
<path d="M348.3 284.8L346.8 281.9L338.7 283.8L328.4 285.5L298.0 288.5L296.3 292.0L329.3 288.6L339.5 286.9L348.3 284.8Z" fill="#1fe8f0"/>
<path d="M347.4 283.0L345.9 280.1L337.7 282.0L328.4 283.5L298.9 286.3L297.4 289.8L329.1 286.6L339.3 284.9L347.4 283.0Z" fill="#1deac6"/>
<path d="M346.4 281.2L345.0 278.3L337.6 280.0L327.3 281.6L299.8 284.2L298.4 287.6L329.0 284.6L338.3 283.1L346.4 281.2Z" fill="#1aeb9b"/>
<path d="M345.6 279.4L344.2 276.6L336.7 278.2L327.3 279.6L300.6 282.2L299.3 285.5L327.9 282.7L338.2 281.1L345.6 279.4Z" fill="#17ed70"/>
<path d="M344.7 277.6L343.4 274.8L328.4 277.5L301.3 280.1L300.1 283.4L327.9 280.7L336.4 279.4L344.7 277.6Z" fill="#14ee46"/>
<path d="M343.9 275.9L342.6 273.0L327.4 275.7L302.0 278.1L300.9 281.3L327.9 278.8L337.2 277.3L343.9 275.9Z" fill="#11f01b"/>
<path d="M343.1 274.1L341.8 271.3L326.5 273.9L302.6 276.1L301.6 279.3L327.0 277.0L335.5 275.7L343.1 274.1Z" fill="#27f20e"/>
<path d="M342.3 272.3L341.0 269.5L326.6 272.0L303.2 274.1L302.2 277.3L327.0 275.0L342.3 272.3Z" fill="#45f50b"/>
<path d="M341.5 270.6L340.3 267.8L325.8 270.2L303.8 272.2L302.9 275.3L327.2 273.1L341.5 270.6Z" fill="#64f708"/>
<path d="M340.7 268.8L339.6 266.0L326.0 268.3L304.4 270.2L303.5 273.3L326.3 271.3L340.7 268.8Z" fill="#82fa06"/>
<path d="M340.0 267.1L338.9 264.3L326.2 266.3L304.9 268.3L304.0 271.4L326.5 269.3L340.0 267.1Z" fill="#a1fc03"/>
<path d="M339.3 265.3L338.2 262.5L325.4 264.6L305.4 266.4L304.6 269.4L325.7 267.5L339.3 265.3Z" fill="#bfff00"/>
<path d="M338.6 263.6L337.5 260.8L325.7 262.7L305.9 264.5L305.1 267.5L325.9 265.6L338.6 263.6Z" fill="#d8ff00"/>
<path d="M337.9 261.8L336.8 259.0L324.9 260.9L306.4 262.6L305.6 265.6L325.1 263.8L337.9 261.8Z" fill="#f1ff00"/>
<path d="M337.2 260.1L336.2 257.3L324.2 259.1L306.9 260.7L306.1 263.7L324.3 262.1L337.2 260.1Z" fill="#fff800"/>
<path d="M336.6 258.3L335.5 255.5L323.5 257.3L307.3 258.8L306.6 261.8L325.6 260.1L336.6 258.3Z" fill="#ffe800"/>
<path d="M335.9 256.6L334.9 253.8L323.8 255.4L307.8 256.9L307.1 259.9L324.9 258.3L335.9 256.6Z" fill="#ffd400"/>
<path d="M335.3 254.8L334.3 252.1L323.1 253.7L308.2 255.0L307.5 258.0L324.2 256.5L335.3 254.8Z" fill="#ffbb00"/>
<path d="M334.6 253.1L333.7 250.3L324.5 251.7L308.6 253.2L307.9 256.1L324.5 254.6L334.6 253.1Z" fill="#ffa200"/>
<path d="M334.0 251.4L333.1 248.6L322.9 250.1L309.0 251.3L308.4 254.3L323.9 252.9L334.0 251.4Z" fill="#ff8900"/>
<path d="M333.4 249.6L332.5 246.9L324.2 248.1L309.4 249.4L308.8 252.4L324.2 251.0L333.4 249.6Z" fill="#ff7101"/>
<path d="M332.8 247.9L331.9 245.1L322.6 246.4L309.8 247.6L309.2 250.6L323.6 249.2L332.8 247.9Z" fill="#ff5a04"/>
<path d="M332.2 246.2L331.3 243.4L310.2 245.7L309.6 248.7L323.0 247.5L332.2 246.2Z" fill="#ff4406"/>
<path d="M331.6 244.4L330.7 241.7L310.6 243.9L310.0 246.9L323.3 245.6L331.6 244.4Z" fill="#fe2e09"/>
<path d="M331.1 242.7L330.2 239.9L311.0 242.1L310.3 245.0L331.1 242.7Z" fill="#f8230c"/>
<path d="M330.5 241.0L329.6 238.2L311.3 240.2L310.7 243.2L330.5 241.0Z" fill="#f21710"/>
<path d="M329.9 239.3L329.1 236.5L311.7 238.4L311.1 241.3L329.9 239.3Z" fill="#ef1212"/>
<path d="M329.4 237.5L328.5 234.8L312.1 236.6L311.5 239.5L329.4 237.5Z" fill="#ed1212"/>
<path d="M328.9 235.8L328.0 233.0L312.4 234.7L311.8 237.7L328.9 235.8Z" fill="#eb1313"/>
<path d="M328.3 234.1L327.4 231.3L312.8 232.9L312.2 235.8L328.3 234.1Z" fill="#e91313"/>
<path d="M327.8 232.4L327.0 229.6L313.2 231.1L312.6 234.0L327.8 232.4Z" fill="#e71313"/>
<path d="M327.3 230.6L326.5 227.9L313.5 229.3L312.9 232.2L327.3 230.6Z" fill="#e51313"/>
<path d="M326.8 228.9L326.0 226.1L313.9 227.5L313.3 230.4L326.8 228.9Z" fill="#e31414"/>
<path d="M326.3 227.2L325.5 224.4L314.3 225.6L313.7 228.6L326.3 227.2Z" fill="#e11414"/>
<path d="M325.8 225.5L325.1 222.7L314.6 223.8L314.0 226.7L325.8 225.5Z" fill="#dc1313"/>
<path d="M325.3 223.7L324.6 221.0L315.0 222.0L314.4 224.9L325.3 223.7Z" fill="#d51111"/>
<path d="M324.9 222.0L324.1 219.3L315.4 220.2L314.8 223.1L324.9 222.0Z" fill="#ce0f0f"/>
<path d="M324.4 220.3L323.7 217.5L315.8 218.4L315.2 221.3L324.4 220.3Z" fill="#c60e0e"/>
<path d="M324.0 218.6L323.2 215.8L323.0 215.8L316.2 216.6L315.6 219.5L324.0 218.6Z" fill="#bf0c0c"/>
<path d="M323.5 216.8L322.8 214.1L321.7 214.2L316.6 214.8L316.0 217.7L323.5 216.8Z" fill="#b40b0b"/>
<path d="M323.1 215.1L322.4 212.4L317.1 212.9L316.4 215.8L323.1 215.1Z" fill="#aa0a0a"/>
<path d="M322.6 213.4L322.0 210.6L321.1 210.7L317.5 211.1L316.8 214.0L322.6 213.4Z" fill="#9f0909"/>
<path d="M322.2 211.7L321.6 208.9L319.8 209.1L318.0 209.3L317.3 212.2L322.2 211.7Z" fill="#940808"/>
<path d="M321.8 210.0L321.2 207.2L318.6 207.5L317.7 210.4L321.8 210.0Z" fill="#8a0707"/>
<path d="M321.4 208.2L320.8 205.5L319.2 205.6L318.2 208.6L321.4 208.2Z" fill="#810505"/>
<path d="M321.0 206.5L320.4 203.8L319.9 203.8L318.8 206.7L321.0 206.5Z" fill="#770404"/>
<path d="M320.6 204.8L320.2 203.1L319.4 204.9L320.6 204.8Z" fill="#6e0202"/>
<path d="M290.8 318.4L295.1 316.4L300.1 315.0L337.2 308.9L349.8 306.0L361.2 302.7M291.5 299.8L331.5 295.0L342.3 293.0L351.7 290.6M299.4 285.1L328.7 282.2L345.4 279.0M303.8 272.2L325.8 270.2L340.3 267.8M307.1 259.9L324.9 258.3L335.9 256.6M309.7 248.0L332.0 245.5M312.1 236.2L328.4 234.4M314.5 224.6L325.2 223.4M317.1 212.9L322.4 212.4" stroke="#000" stroke-opacity="0.25" stroke-width="0.5" fill="none"/>
<circle cx="279.2" cy="308.1" r="1.3" fill="#f00"/><circle cx="293.5" cy="320.6" r="1.3" fill="#f00"/><circle cx="308.0" cy="328.6" r="1.3" fill="#f00"/><circle cx="323.0" cy="335.4" r="1.3" fill="#f00"/><circle cx="338.6" cy="340.7" r="1.3" fill="#f00"/><circle cx="348.7" cy="333.4" r="1.3" fill="#f00"/><circle cx="358.3" cy="326.4" r="1.3" fill="#f00"/><circle cx="367.3" cy="318.9" r="1.3" fill="#f00"/><circle cx="376.0" cy="310.8" r="1.3" fill="#f00"/>
<path d="M265.9 329.0L260.5 208.7M265.9 329.0L367.1 351.2M367.1 351.2L416.8 313.2M265.9 329.0h2M264.9 305.8h2M263.8 282.2h2M262.7 258.1h2M261.6 233.6h2M260.5 208.7h2M265.9 329.0v-2.2M284.2 333.0v-2.2M303.4 337.2v-2.2M323.6 341.7v-2.2M344.8 346.3v-2.2M367.1 351.2v-2.2M367.1 351.2v-2.2M381.5 340.2v-2.2M394.5 330.3v-2.2M406.2 321.4v-2.2M416.8 313.2v-2.2" stroke="#555" stroke-width="0.9" fill="none"/>
<g font-family="Liberation Serif, serif" font-size="12.10" fill="#1a1a1a" stroke="#1a1a1a" stroke-width="0.18"><text transform="translate(262.9 333.5) scale(1 1.110)" text-anchor="end">0.0</text><text transform="translate(261.9 310.3) scale(1 1.110)" text-anchor="end">0.3</text><text transform="translate(260.8 286.7) scale(1 1.110)" text-anchor="end">0.6</text><text transform="translate(259.7 262.7) scale(1 1.110)" text-anchor="end">0.9</text><text transform="translate(258.6 238.2) scale(1 1.110)" text-anchor="end">1.2</text><text transform="translate(257.5 213.2) scale(1 1.110)" text-anchor="end">1.5</text><text transform="translate(268.3 344.6) scale(1 1.110)" text-anchor="middle">2.0</text><text transform="translate(285.8 348.7) scale(1 1.110)" text-anchor="middle">1.6</text><text transform="translate(305.2 353.7) scale(1 1.110)" text-anchor="middle">1.2</text><text transform="translate(325.4 358.1) scale(1 1.110)" text-anchor="middle">0.8</text><text transform="translate(345.5 360.8) scale(1 1.110)" text-anchor="middle">0.4</text><text transform="translate(367.4 367.5) scale(1 1.110)" text-anchor="middle">0.0</text><text transform="translate(384.5 358.8) scale(1 1.110)" text-anchor="middle">6.0</text><text transform="translate(396.9 349.0) scale(1 1.110)" text-anchor="middle">4.5</text><text transform="translate(408.7 338.8) scale(1 1.110)" text-anchor="middle">3.0</text><text transform="translate(419.6 330.4) scale(1 1.110)" text-anchor="middle">1.5</text><text transform="translate(428.3 322.8) scale(1 1.110)" text-anchor="middle">0.0</text></g>
<g font-family="Liberation Serif, serif" fill="#1a1a1a" stroke="#1a1a1a" stroke-width="0.18"><text transform="translate(240.7 269.3) rotate(-92.6)" text-anchor="middle" dy="0.3em" font-size="12.82">Gas flow rate (L·min<tspan font-size="0.68em" dy="-0.4em">-1</tspan><tspan dy="0.4em">)</tspan></text><text transform="translate(308.8 363.1) rotate(12.7)" text-anchor="middle" dy="0.3em" font-size="12.50">Gas pressure (MPa)</text><text transform="translate(414.6 348.1) rotate(-45.0)" text-anchor="middle" dy="0.3em" font-size="11.48">Effective stress (MPa)</text></g>
<text font-family="Liberation Serif, serif" font-size="12.5" fill="#1a1a1a" stroke="#1a1a1a" stroke-width="0.18" x="347.7" y="219.0">(e) <tspan font-style="italic">w</tspan>=5.07 %</text>
<linearGradient id="ge" x1="0" y1="1" x2="0" y2="0"><stop offset="0.000" stop-color="#5a0070"/><stop offset="0.060" stop-color="#8000c0"/><stop offset="0.100" stop-color="#8000ff"/><stop offset="0.155" stop-color="#0000ff"/><stop offset="0.210" stop-color="#00a0ff"/><stop offset="0.255" stop-color="#00ffff"/><stop offset="0.340" stop-color="#00ff00"/><stop offset="0.430" stop-color="#c0ff00"/><stop offset="0.470" stop-color="#ffff00"/><stop offset="0.500" stop-color="#ffe000"/><stop offset="0.560" stop-color="#ff8000"/><stop offset="0.615" stop-color="#ff3000"/><stop offset="0.655" stop-color="#ff0000"/><stop offset="0.830" stop-color="#f00000"/><stop offset="0.885" stop-color="#b00000"/><stop offset="0.956" stop-color="#700000"/><stop offset="1.000" stop-color="#500000"/></linearGradient>
<rect x="422.3" y="203.6" width="12.9" height="77.3" fill="url(#ge)"/>
<path d="M435.2 216.0h2M435.2 229.0h2M435.2 242.0h2M435.2 255.0h2M435.2 268.0h2" stroke="#777" stroke-width="0.8"/>
<clipPath id="cle"><rect x="0" y="0" width="454.0" height="400"/></clipPath>
<g font-family="Liberation Serif, serif" font-size="12.10" fill="#1a1a1a" stroke="#1a1a1a" stroke-width="0.18" clip-path="url(#cle)"><text transform="translate(440.8 220.5) scale(1 1.110)" text-anchor="start">1.3</text><text transform="translate(440.8 233.5) scale(1 1.110)" text-anchor="start">1.0</text><text transform="translate(440.8 246.5) scale(1 1.110)" text-anchor="start">0.8</text><text transform="translate(440.8 259.5) scale(1 1.110)" text-anchor="start">0.5</text><text transform="translate(440.8 272.5) scale(1 1.110)" text-anchor="start">0.3</text></g>
<path d="M498.8 334.1L556.7 304.0M556.7 304.0L644.0 317.3M497.5 304.6L556.2 279.1M556.2 279.1L644.4 290.1M496.2 274.3L555.7 253.8M555.7 253.8L644.9 262.2M494.8 243.3L555.2 227.9M555.2 227.9L645.3 233.7M493.4 211.5L554.7 201.5M554.7 201.5L645.8 204.5M556.7 304.0L554.7 201.5M556.7 304.0L644.0 317.3M544.1 310.5L541.4 203.6M544.1 310.5L634.3 325.2M530.4 317.7L527.0 206.0M530.4 317.7L623.6 333.9M515.4 325.5L511.0 208.6M515.4 325.5L611.8 343.5M498.8 334.1L493.4 211.5M498.8 334.1L598.6 354.2M644.0 317.3L645.8 204.5M598.6 354.2L644.0 317.3M625.1 314.5L626.1 203.8M576.7 349.8L625.1 314.5M607.0 311.7L607.1 203.2M555.8 345.6L607.0 311.7M589.6 309.0L588.9 202.6M536.0 341.6L589.6 309.0M572.9 306.5L571.5 202.0M517.0 337.8L572.9 306.5M556.7 304.0L554.7 201.5M498.8 334.1L556.7 304.0" stroke="#f0f0f0" stroke-width="0.6" fill="none"/>
<path d="M493.4 211.5L554.7 201.5M554.7 201.5L645.8 204.5M556.7 304.0L554.7 201.5M644.0 317.3L645.8 204.5M498.8 334.1L556.7 304.0M556.7 304.0L644.0 317.3" stroke="#a8a8a8" stroke-width="0.7" fill="none"/>
<path d="M590.8 327.6L591.2 327.3L589.3 327.3L583.8 327.9L564.8 331.1L554.3 333.7L547.3 336.4L558.8 340.4L571.1 343.7L590.8 327.6Z" fill="#822196"/>
<path d="M598.7 320.8L599.1 320.4L594.6 321.0L555.0 328.6L547.1 330.7L540.0 333.4L553.1 338.6L559.3 336.0L567.7 333.9L578.7 332.3L585.3 332.3L598.7 320.8Z" fill="#8622a3"/>
<path d="M603.0 316.3L596.8 316.8L576.3 321.2L549.3 326.0L541.3 328.0L534.2 330.7L544.1 335.2L551.0 332.5L559.2 330.3L586.8 325.2L594.9 324.2L603.0 316.3Z" fill="#8821b3"/>
<path d="M605.3 313.4L603.9 313.0L597.6 313.6L574.3 318.7L545.4 323.4L537.3 325.3L529.5 328.2L537.5 332.3L544.6 329.6L552.6 327.5L577.3 323.0L595.5 319.2L601.0 318.5L605.3 313.4Z" fill="#8920c6"/>
<path d="M605.3 313.4L598.9 310.7L572.9 316.2L540.2 321.3L532.3 323.2L525.4 325.9L532.2 329.7L538.5 327.3L545.3 325.4L575.6 320.2L597.0 315.5L604.2 314.8L605.3 313.4Z" fill="#8a1ed8"/>
<path d="M601.4 312.0L595.9 308.8L572.1 313.9L536.5 319.0L528.7 321.0L521.9 323.6L527.8 327.3L534.8 324.6L542.7 322.6L573.8 317.6L595.0 313.0L601.4 312.0Z" fill="#831ee2"/>
<path d="M597.6 309.9L593.4 307.0L570.6 311.8L534.1 316.7L526.2 318.6L518.7 321.4L523.9 324.9L530.8 322.3L538.6 320.4L572.7 315.3L597.6 309.9Z" fill="#7c1eeb"/>
<path d="M594.8 308.0L591.4 305.2L578.7 308.1L569.3 309.8L531.1 314.7L523.3 316.5L515.8 319.3L520.5 322.7L527.3 320.1L535.1 318.2L572.0 313.0L594.8 308.0Z" fill="#6b20f0"/>
<path d="M592.6 306.2L589.6 303.4L577.7 306.1L568.1 307.8L529.4 312.5L521.4 314.3L513.1 317.3L517.5 320.6L525.0 317.8L532.9 315.9L569.6 311.1L592.6 306.2Z" fill="#4f23f0"/>
<path d="M590.6 304.5L587.9 301.7L576.9 304.2L566.4 306.0L529.0 310.2L520.2 312.0L512.8 317.0L514.7 318.5L522.2 315.7L530.0 313.8L569.5 308.9L590.6 304.5Z" fill="#3427f0"/>
<path d="M588.9 302.7L586.4 300.0L575.4 302.5L565.7 304.1L525.7 308.4L523.5 308.8L520.4 311.8L516.4 314.8L522.8 312.8L529.4 311.5L567.5 307.1L577.0 305.4L588.9 302.7Z" fill="#243cf1"/>
<path d="M587.3 301.0L585.0 298.4L575.7 300.5L564.7 302.2L526.8 306.1L525.6 306.3L521.8 310.6L533.6 308.6L566.7 305.1L577.1 303.4L587.3 301.0Z" fill="#1d5ef4"/>
<path d="M585.9 299.4L583.7 296.7L574.3 298.8L563.5 300.4L527.2 303.9L524.4 307.8L533.8 306.5L566.1 303.2L575.6 301.6L585.9 299.4Z" fill="#1680f6"/>
<path d="M584.5 297.7L582.5 295.1L573.9 296.9L563.2 298.6L528.5 301.8L526.3 305.3L564.5 301.5L574.2 300.0L584.5 297.7Z" fill="#10a1f8"/>
<path d="M583.2 296.0L581.3 293.4L572.7 295.3L562.9 296.8L529.6 299.7L527.7 303.1L562.9 299.8L572.9 298.3L583.2 296.0Z" fill="#16bbf8"/>
<path d="M582.0 294.4L580.2 291.8L571.5 293.6L561.6 295.1L530.5 297.7L528.9 300.9L562.6 297.9L572.5 296.4L582.0 294.4Z" fill="#1bd4f8"/>
<path d="M580.9 292.8L579.1 290.2L570.4 292.0L561.4 293.3L531.4 295.8L530.0 298.9L562.3 296.1L572.2 294.6L580.9 292.8Z" fill="#1fe8f0"/>
<path d="M579.8 291.2L578.1 288.6L570.2 290.2L561.3 291.5L532.2 293.9L530.9 296.9L561.1 294.4L571.1 293.0L579.8 291.2Z" fill="#1deac6"/>
<path d="M578.7 289.5L577.1 287.0L569.2 288.6L560.2 289.8L532.9 292.0L531.7 295.0L560.9 292.6L570.8 291.2L578.7 289.5Z" fill="#1aeb9b"/>
<path d="M577.7 287.9L576.1 285.4L560.2 288.1L533.5 290.2L532.5 293.1L560.9 290.8L570.7 289.4L577.7 287.9Z" fill="#17ed70"/>
<path d="M576.7 286.3L575.2 283.8L567.2 285.4L559.2 286.4L534.2 288.4L533.2 291.3L559.7 289.2L568.8 287.9L576.7 286.3Z" fill="#14ee46"/>
<path d="M575.8 284.8L574.3 282.2L559.3 284.7L534.7 286.6L533.8 289.5L559.8 287.4L575.8 284.8Z" fill="#11f01b"/>
<path d="M574.9 283.2L573.4 280.6L559.4 282.9L535.3 284.9L534.4 287.7L559.8 285.6L574.9 283.2Z" fill="#27f20e"/>
<path d="M574.0 281.6L572.6 279.1L558.5 281.3L535.8 283.1L534.9 285.9L558.9 284.0L574.0 281.6Z" fill="#45f50b"/>
<path d="M573.1 280.0L571.8 277.5L557.6 279.7L536.2 281.4L535.5 284.2L559.0 282.3L573.1 280.0Z" fill="#64f708"/>
<path d="M572.3 278.4L571.0 275.9L557.8 278.0L536.7 279.7L535.9 282.4L558.1 280.7L572.3 278.4Z" fill="#82fa06"/>
<path d="M571.5 276.9L570.2 274.4L558.0 276.3L537.1 278.0L536.4 280.7L558.3 279.0L571.5 276.9Z" fill="#a1fc03"/>
<path d="M570.7 275.3L569.4 272.8L557.2 274.7L537.5 276.3L536.9 279.0L557.5 277.4L570.7 275.3Z" fill="#bfff00"/>
<path d="M569.9 273.7L568.7 271.2L556.4 273.1L537.9 274.6L537.3 277.3L557.7 275.6L569.9 273.7Z" fill="#d8ff00"/>
<path d="M569.1 272.2L568.0 269.7L556.7 271.4L538.3 272.9L537.7 275.6L556.9 274.1L569.1 272.2Z" fill="#f1ff00"/>
<path d="M568.4 270.6L567.3 268.1L557.1 269.7L538.7 271.2L538.1 273.9L557.2 272.4L568.4 270.6Z" fill="#fff800"/>
<path d="M567.7 269.1L566.6 266.6L556.3 268.1L539.0 269.6L538.5 272.2L556.5 270.8L567.7 269.1Z" fill="#ffe800"/>
<path d="M567.0 267.5L565.9 265.0L555.7 266.6L539.4 267.9L538.8 270.6L555.7 269.2L567.0 267.5Z" fill="#ffd400"/>
<path d="M566.3 266.0L565.2 263.5L556.0 264.9L539.7 266.3L539.2 268.9L556.1 267.5L566.3 266.0Z" fill="#ffbb00"/>
<path d="M565.6 264.4L564.6 261.9L555.4 263.3L540.0 264.6L539.5 267.3L555.4 266.0L565.6 264.4Z" fill="#ffa200"/>
<path d="M565.0 262.9L563.9 260.4L555.7 261.7L540.4 263.0L539.8 265.6L555.7 264.3L565.0 262.9Z" fill="#ff8900"/>
<path d="M564.3 261.3L563.3 258.8L555.1 260.1L540.7 261.3L540.2 264.0L555.1 262.7L564.3 261.3Z" fill="#ff7101"/>
<path d="M563.7 259.8L562.7 257.3L553.5 258.7L541.0 259.7L540.5 262.3L554.5 261.1L563.7 259.8Z" fill="#ff5a04"/>
<path d="M563.1 258.2L562.1 255.8L553.9 257.0L541.3 258.1L540.8 260.7L554.9 259.5L563.1 258.2Z" fill="#ff4406"/>
<path d="M562.5 256.7L561.5 254.2L553.4 255.4L541.6 256.5L541.1 259.1L554.3 257.9L562.5 256.7Z" fill="#fe2e09"/>
<path d="M561.9 255.2L561.0 252.7L553.8 253.8L541.9 254.8L541.4 257.4L554.7 256.3L561.9 255.2Z" fill="#f8230c"/>
<path d="M561.3 253.6L560.4 251.2L553.2 252.2L542.1 253.2L541.7 255.8L554.1 254.7L561.3 253.6Z" fill="#f21710"/>
<path d="M560.8 252.1L559.9 249.6L542.4 251.6L542.0 254.2L552.6 253.3L560.8 252.1Z" fill="#ef1212"/>
<path d="M560.2 250.5L559.4 248.1L542.7 250.0L542.3 252.6L553.0 251.6L560.2 250.5Z" fill="#ed1212"/>
<path d="M559.7 249.0L558.8 246.6L543.0 248.4L542.5 250.9L559.7 249.0Z" fill="#eb1313"/>
<path d="M559.2 247.5L558.3 245.0L543.2 246.7L542.8 249.3L559.2 247.5Z" fill="#e91313"/>
<path d="M558.6 245.9L557.8 243.5L543.5 245.1L543.1 247.7L558.6 245.9Z" fill="#e71313"/>
<path d="M558.1 244.4L557.4 242.0L543.8 243.5L543.4 246.1L558.1 244.4Z" fill="#e51313"/>
<path d="M557.6 242.9L556.9 240.4L544.1 241.9L543.6 244.5L557.6 242.9Z" fill="#e31414"/>
<path d="M557.2 241.4L556.4 238.9L544.3 240.3L543.9 242.9L557.2 241.4Z" fill="#e11414"/>
<path d="M556.7 239.8L555.9 237.4L544.6 238.7L544.2 241.3L556.7 239.8Z" fill="#dc1313"/>
<path d="M556.2 238.3L555.5 235.9L544.9 237.1L544.4 239.7L556.2 238.3Z" fill="#d51111"/>
<path d="M555.8 236.8L555.1 234.3L545.2 235.5L544.7 238.1L555.8 236.8Z" fill="#ce0f0f"/>
<path d="M555.4 235.2L554.7 232.8L554.2 232.9L545.4 233.9L545.0 236.5L555.4 235.2Z" fill="#c60e0e"/>
<path d="M554.9 233.7L554.3 231.3L545.7 232.3L545.3 234.9L554.9 233.7Z" fill="#bf0c0c"/>
<path d="M554.5 232.2L553.8 229.7L546.0 230.7L545.5 233.3L554.5 232.2Z" fill="#b40b0b"/>
<path d="M554.1 230.7L553.5 228.2L546.3 229.1L545.8 231.7L554.1 230.7Z" fill="#aa0a0a"/>
<path d="M553.7 229.1L553.1 226.7L546.6 227.5L546.1 230.0L553.7 229.1Z" fill="#9f0909"/>
<path d="M553.3 227.6L552.7 225.2L546.9 225.9L546.4 228.4L553.3 227.6Z" fill="#940808"/>
<path d="M552.9 226.1L552.3 223.6L547.3 224.3L546.7 226.8L552.9 226.1Z" fill="#8a0707"/>
<path d="M552.5 224.6L551.9 222.1L551.1 222.2L547.6 222.7L547.1 225.2L552.5 224.6Z" fill="#810505"/>
<path d="M552.2 223.0L551.6 220.6L548.0 221.0L547.4 223.6L552.2 223.0Z" fill="#770404"/>
<path d="M551.8 221.5L551.2 219.1L550.3 219.2L548.4 219.4L547.8 222.0L551.8 221.5Z" fill="#6e0202"/>
<path d="M551.4 220.0L550.2 214.5L548.1 220.4L551.4 220.0Z" fill="#650101"/>
<path d="M522.5 324.0L529.4 321.4L537.2 319.5L571.6 314.5L596.4 309.2M525.9 305.8L564.8 301.8L574.5 300.3L584.8 298.0M532.6 292.8L560.6 290.5L577.5 287.6M536.2 281.4L557.6 279.7L571.8 277.5M538.8 270.6L555.7 269.2L567.0 267.5M540.9 260.0L553.6 259.0L562.8 257.6M542.8 249.7L559.3 247.8M544.5 239.4L556.1 238.0M546.3 229.1L553.5 228.2" stroke="#000" stroke-opacity="0.25" stroke-width="0.5" fill="none"/>
<circle cx="511.6" cy="317.2" r="1.3" fill="#f00"/><circle cx="525.7" cy="326.3" r="1.3" fill="#f00"/><circle cx="540.1" cy="333.4" r="1.3" fill="#f00"/><circle cx="554.9" cy="339.1" r="1.3" fill="#f00"/><circle cx="570.1" cy="343.9" r="1.3" fill="#f00"/><circle cx="579.7" cy="336.8" r="1.3" fill="#f00"/><circle cx="588.7" cy="329.5" r="1.3" fill="#f00"/><circle cx="596.8" cy="322.5" r="1.3" fill="#f00"/><circle cx="604.7" cy="313.8" r="1.3" fill="#f00"/>
<path d="M498.8 334.1L493.4 211.5M498.8 334.1L598.6 354.2M598.6 354.2L644.0 317.3M498.8 334.1h2M497.5 304.6h2M496.2 274.3h2M494.8 243.3h2M493.4 211.5h2M498.8 334.1v-2.2M517.0 337.8v-2.2M536.0 341.6v-2.2M555.8 345.6v-2.2M576.7 349.8v-2.2M598.6 354.2v-2.2M598.6 354.2v-2.2M611.8 343.5v-2.2M623.6 333.9v-2.2M634.3 325.2v-2.2M644.0 317.3v-2.2" stroke="#555" stroke-width="0.9" fill="none"/>
<g font-family="Liberation Serif, serif" font-size="11.60" fill="#1a1a1a" stroke="#1a1a1a" stroke-width="0.18"><text transform="translate(495.8 338.7) scale(1 1.160)" text-anchor="end">0.0</text><text transform="translate(494.5 309.1) scale(1 1.160)" text-anchor="end">0.3</text><text transform="translate(493.2 278.9) scale(1 1.160)" text-anchor="end">0.6</text><text transform="translate(491.8 247.8) scale(1 1.160)" text-anchor="end">0.9</text><text transform="translate(490.4 216.0) scale(1 1.160)" text-anchor="end">1.2</text><text transform="translate(498.7 349.0) scale(1 1.160)" text-anchor="middle">2.0</text><text transform="translate(517.1 352.0) scale(1 1.160)" text-anchor="middle">1.6</text><text transform="translate(536.3 356.4) scale(1 1.160)" text-anchor="middle">1.2</text><text transform="translate(555.7 360.8) scale(1 1.160)" text-anchor="middle">0.8</text><text transform="translate(575.9 364.8) scale(1 1.160)" text-anchor="middle">0.4</text><text transform="translate(598.7 368.8) scale(1 1.160)" text-anchor="middle">0.0</text><text transform="translate(614.0 358.9) scale(1 1.160)" text-anchor="middle">6.0</text><text transform="translate(626.0 349.5) scale(1 1.160)" text-anchor="middle">4.5</text><text transform="translate(636.7 340.4) scale(1 1.160)" text-anchor="middle">3.0</text><text transform="translate(645.7 333.0) scale(1 1.160)" text-anchor="middle">1.5</text><text transform="translate(654.8 325.3) scale(1 1.160)" text-anchor="middle">0.0</text></g>
<g font-family="Liberation Serif, serif" fill="#1a1a1a" stroke="#1a1a1a" stroke-width="0.18"><text transform="translate(471.8 275.2) rotate(-92.5)" text-anchor="middle" dy="0.3em" font-size="12.95">Gas flow rate (L·min<tspan font-size="0.68em" dy="-0.4em">-1</tspan><tspan dy="0.4em">)</tspan></text><text transform="translate(541.4 366.9) rotate(10.1)" text-anchor="middle" dy="0.3em" font-size="11.97">Gas pressure (MPa)</text><text transform="translate(640.4 348.8) rotate(-44.6)" text-anchor="middle" dy="0.3em" font-size="11.57">Effective stress (MPa)</text></g>
<text font-family="Liberation Serif, serif" font-size="12.13" fill="#1a1a1a" stroke="#1a1a1a" stroke-width="0.18" x="578.2" y="222.0">(f)<tspan font-style="italic">w</tspan>= 5.10 %</text>
<linearGradient id="gf" x1="0" y1="1" x2="0" y2="0"><stop offset="0.000" stop-color="#5a0070"/><stop offset="0.060" stop-color="#8000c0"/><stop offset="0.100" stop-color="#8000ff"/><stop offset="0.155" stop-color="#0000ff"/><stop offset="0.210" stop-color="#00a0ff"/><stop offset="0.255" stop-color="#00ffff"/><stop offset="0.340" stop-color="#00ff00"/><stop offset="0.430" stop-color="#c0ff00"/><stop offset="0.470" stop-color="#ffff00"/><stop offset="0.500" stop-color="#ffe000"/><stop offset="0.560" stop-color="#ff8000"/><stop offset="0.615" stop-color="#ff3000"/><stop offset="0.655" stop-color="#ff0000"/><stop offset="0.830" stop-color="#f00000"/><stop offset="0.885" stop-color="#b00000"/><stop offset="0.956" stop-color="#700000"/><stop offset="1.000" stop-color="#500000"/></linearGradient>
<rect x="650.6" y="206.7" width="13.9" height="77.8" fill="url(#gf)"/>
<path d="M664.5 219.4h2M664.5 232.5h2M664.5 245.6h2M664.5 258.7h2M664.5 271.8h2" stroke="#777" stroke-width="0.8"/>
<g font-family="Liberation Serif, serif" font-size="11.60" fill="#1a1a1a" stroke="#1a1a1a" stroke-width="0.18"><text transform="translate(671.1 224.0) scale(1 1.160)" text-anchor="start">0.9</text><text transform="translate(671.1 237.1) scale(1 1.160)" text-anchor="start">0.7</text><text transform="translate(671.1 250.1) scale(1 1.160)" text-anchor="start">0.5</text><text transform="translate(671.1 263.2) scale(1 1.160)" text-anchor="start">0.4</text><text transform="translate(671.1 276.3) scale(1 1.160)" text-anchor="start">0.2</text></g>
</svg></body></html>
